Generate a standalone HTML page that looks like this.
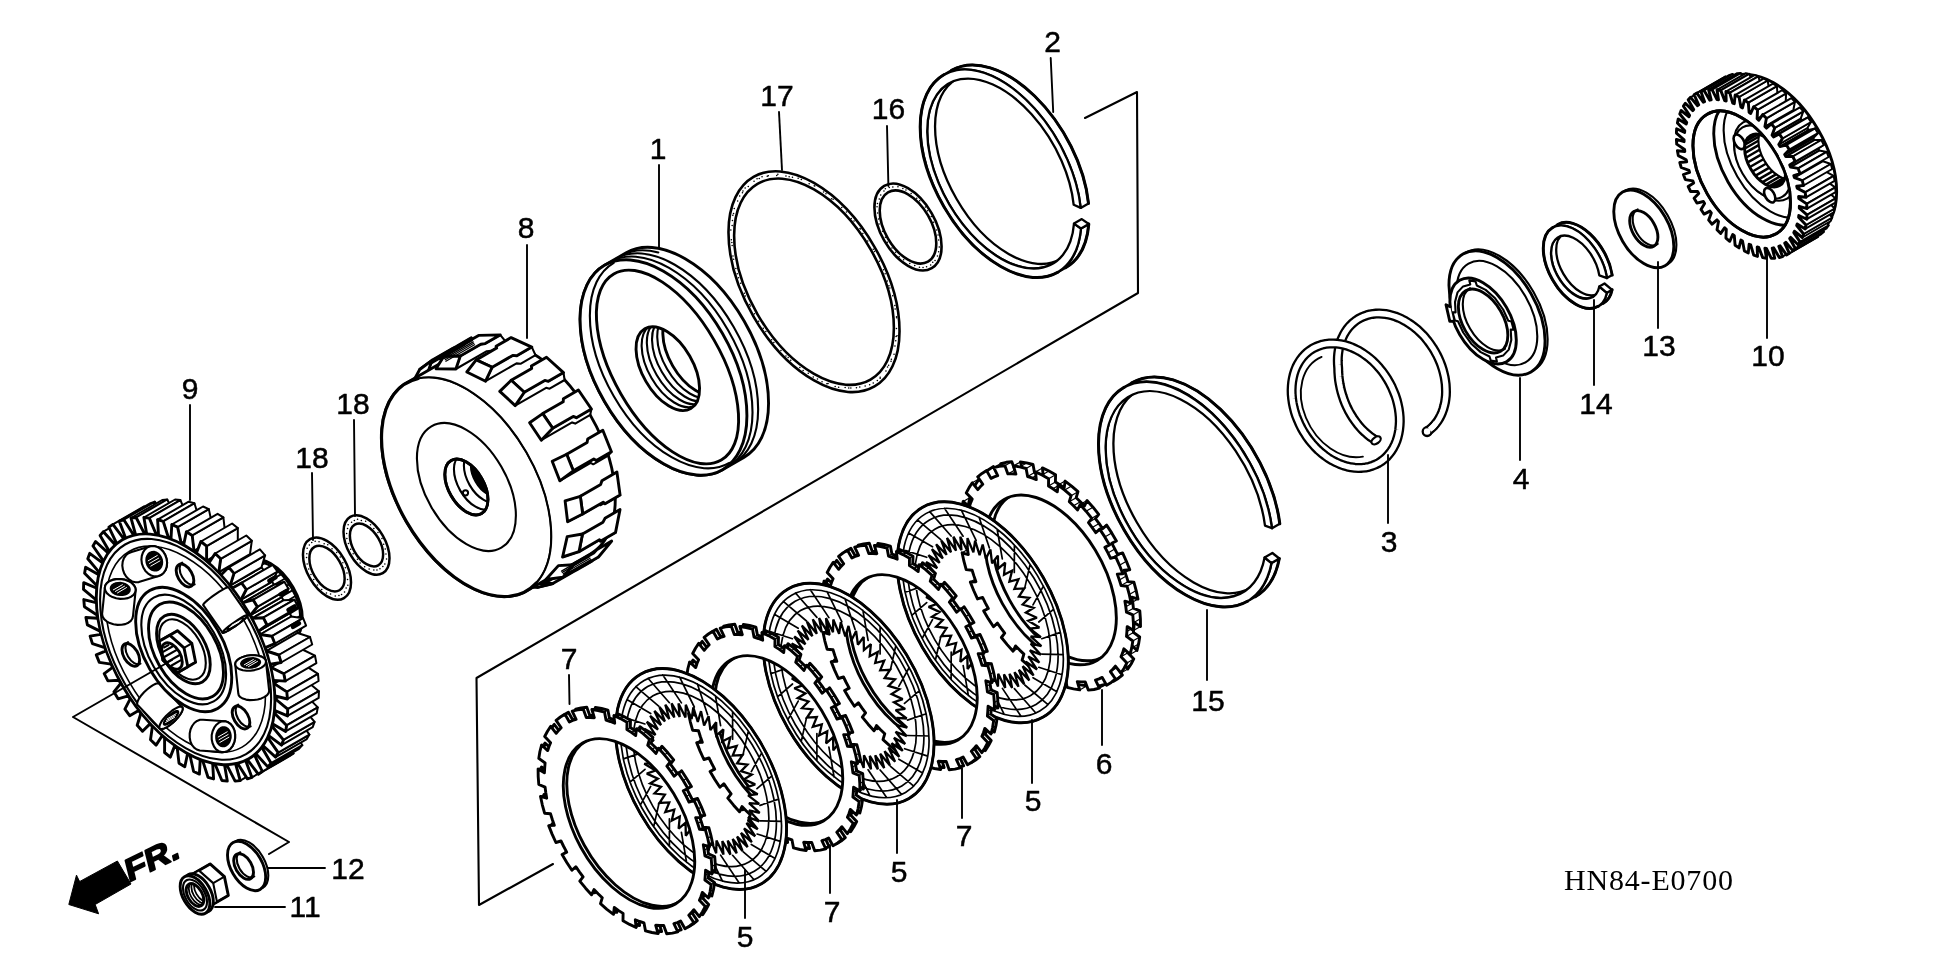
<!DOCTYPE html>
<html><head><meta charset="utf-8"><title>HN84-E0700</title>
<style>html,body{margin:0;padding:0;background:#fff;}svg{display:block;filter:grayscale(1);}</style>
</head><body>
<svg width="1934" height="964" viewBox="0 0 1934 964" stroke-linecap="round" stroke-linejoin="round">
<ellipse cx="327" cy="568.6" rx="34" ry="19.6" transform="rotate(60 327 568.6)" fill="#fff" stroke="#000" stroke-width="2.5"/>
<ellipse cx="327" cy="568.6" rx="25" ry="14.4" transform="rotate(60 327 568.6)" fill="#fff" stroke="#000" stroke-width="2.5"/>
<path d="M341.5 594.4h0.1M344.5 592.1h0.1M346.1 587.9h0.1M347.8 585.3h0.1M347.5 579.6h0.1M346.9 573.1h0.1M345.3 567.8h0.1M342.8 562.7h0.1M340.2 557h0.1M336.6 552.4h0.1M332 548.7h0.1M327.7 544.8h0.1M324.1 543.7h0.1M319 541.8h0.1M315.1 541.3h0.1M311.7 542.6h0.1M309.3 544.9h0.1M307.1 548.2h0.1M306.8 553.8h0.1M306.5 557.4h0.1M307.1 564.1h0.1M308.7 569h0.1M310.9 574.4h0.1M313.7 579.5h0.1M317.4 585.1h0.1M321.7 589.4h0.1M326.4 593h0.1M330.5 593.9h0.1M335.2 596.1h0.1M338.9 595.4h0.1" fill="none" stroke="#000" stroke-width="1.5" />
<ellipse cx="366.5" cy="545" rx="32.5" ry="18.8" transform="rotate(60 366.5 545)" fill="#fff" stroke="#000" stroke-width="2.5"/>
<ellipse cx="366.5" cy="545" rx="23.5" ry="13.6" transform="rotate(60 366.5 545)" fill="#fff" stroke="#000" stroke-width="2.5"/>
<path d="M379.9 568.8h0.1M382.8 566.6h0.1M384.8 564h0.1M386.5 559h0.1M385.9 554h0.1M385.2 549.1h0.1M383.6 544.3h0.1M381.9 538.6h0.1M377.9 532.4h0.1M373.8 528.4h0.1M370.5 524.8h0.1M365.6 521.2h0.1M361.3 520.5h0.1M357.5 519.2h0.1M354.3 520.5h0.1M351.5 522.3h0.1M348.1 524.7h0.1M347.5 528.6h0.1M346.6 533.6h0.1M346.8 538.6h0.1M348.4 543.6h0.1M350.6 549.2h0.1M353.1 553.7h0.1M357.4 559.3h0.1M360.1 563.1h0.1M364.6 566.7h0.1M369.1 569h0.1M373.8 570h0.1M376.9 570h0.1" fill="none" stroke="#000" stroke-width="1.5" />
<ellipse cx="814" cy="281.7" rx="121" ry="69.8" transform="rotate(60 814 281.7)" fill="#fff" stroke="#000" stroke-width="2.6"/>
<ellipse cx="814" cy="281.7" rx="113" ry="65.2" transform="rotate(60 814 281.7)" fill="#fff" stroke="#000" stroke-width="2.6"/>
<path d="M873.2 383.1h0.1M877.3 380.6h0.1M880.1 378.2h0.1M880.1 377.2h0.1M885.9 370.9h0.1M887.5 366.9h0.1M888.6 365.2h0.1M891 361.2h0.1M891.3 359.3h0.1M894 354.2h0.1M894.9 345.9h0.1M895.7 340.7h0.1M896 336.6h0.1M897 335.8h0.1M896.4 328.5h0.1M896.5 317.8h0.1M896.5 316.8h0.1M895.1 309h0.1M894.8 305.4h0.1M892.6 295.7h0.1M889.8 287.9h0.1M888.9 285.7h0.1M887.3 281.1h0.1M885.1 273.7h0.1M883.5 269.7h0.1M879.3 261.2h0.1M874.5 251.6h0.1M873.2 249.3h0.1M867.7 240.9h0.1M862.8 233.5h0.1M860.4 229h0.1M859.9 228.4h0.1M854 221.1h0.1M851.2 218.6h0.1M846.4 211.9h0.1M841.7 207.4h0.1M833.1 199.2h0.1M831.5 198.7h0.1M825.9 193.7h0.1M823.5 192h0.1M814.7 186.1h0.1M814.2 185.8h0.1M809.1 183.8h0.1M801.3 179.4h0.1M798.1 178.2h0.1M792.4 177.3h0.1M789.1 176.7h0.1M785.9 176.1h0.1M777.8 174.2h0.1M776.7 175.6h0.1M768.2 175.7h0.1M767.2 176.3h0.1M762 176.8h0.1M759.2 178.6h0.1M757 178.8h0.1M754 181.3h0.1M748.2 186.6h0.1M745.1 188h0.1M742.9 191.1h0.1M742.4 192.7h0.1M739.6 196h0.1M737.6 201.1h0.1M734.2 208.6h0.1M733.5 213.6h0.1M732.8 215.3h0.1M732.4 220.6h0.1M732.1 225.4h0.1M730.8 230h0.1M731.3 239.8h0.1M731.8 242.5h0.1M732.1 245.5h0.1M732.9 256.1h0.1M733.6 259.2h0.1M735.8 268.4h0.1M737.2 273.8h0.1M738.5 277.7h0.1M740.6 283.3h0.1M744.3 293.2h0.1M745.2 295.9h0.1M749.6 304.6h0.1M750.4 306h0.1M754.4 313.8h0.1M758.6 321.2h0.1M763.2 328.2h0.1M765.8 331.6h0.1M771.6 339.7h0.1M773.8 342.5h0.1M780.9 350.4h0.1M785.9 355.9h0.1M788.1 357.5h0.1M790.7 360.3h0.1M799.8 367.5h0.1M803.1 370.4h0.1M808.2 373.2h0.1M813.2 376.9h0.1M817.4 379h0.1M822 381.7h0.1M826.8 383.8h0.1M828 383.5h0.1M835.1 386.5h0.1M838.6 387.3h0.1M845.1 387.5h0.1M848.7 388.1h0.1M850.8 388h0.1M856.4 387.7h0.1M859.7 387h0.1M865.1 386.1h0.1M869.6 384.7h0.1" fill="none" stroke="#000" stroke-width="1.5" />
<ellipse cx="908" cy="227" rx="47.5" ry="27.4" transform="rotate(60 908 227)" fill="#fff" stroke="#000" stroke-width="2.6"/>
<ellipse cx="908" cy="227" rx="40" ry="23.1" transform="rotate(60 908 227)" fill="#fff" stroke="#000" stroke-width="2.6"/>
<path d="M930.6 265.1h0.1M932.7 262.3h0.1M935 260.5h0.1M937.4 256h0.1M938.6 251.7h0.1M939.2 247h0.1M938.6 240.1h0.1M938 235h0.1M936.7 230h0.1M933.6 222.3h0.1M931.2 216.4h0.1M927.5 210.8h0.1M925.4 207h0.1M919.7 200.8h0.1M916.7 198.2h0.1M911.1 193.6h0.1M905.9 190h0.1M902.8 188.6h0.1M897.9 186.8h0.1M892.8 187.1h0.1M889.2 187.4h0.1M885.3 188.7h0.1M883.9 191h0.1M880.7 194.9h0.1M879.2 198.9h0.1M877.4 203.6h0.1M877 206.8h0.1M877.6 212.9h0.1M878.5 219h0.1M879 224.1h0.1M882.5 231.3h0.1M885.4 237.3h0.1M887.3 242.2h0.1M891.9 247.9h0.1M895.5 252.2h0.1M899.1 256.7h0.1M903.6 259.7h0.1M909.7 263.5h0.1M914.7 265.4h0.1M919.4 267.3h0.1M923 267.5h0.1M926.5 266.8h0.1" fill="none" stroke="#000" stroke-width="1.5" />
<path d="M197.7 590.3A45 26 60 0 0 197.8 642.3A45 26 60 0 0 242.7 668.3L293 639.3A45 26 60 0 0 293 587.3A45 26 60 0 0 248 561.3Z" fill="#fff" stroke="#000" stroke-width="2.9" />
<path d="M237.6 670.1L286.6 638.4M241.5 668.9L291.8 639.9M245 666.7L293.5 635.2M247.8 663.6L298 634.6M249.9 659.6L298.2 628.6M251.4 654.9L301.6 625.9M252 649.6L300.1 619.2M251.9 643.7L302.1 614.7M251 637.5L299.1 608M249.3 631.1L299.5 602.1M246.9 624.7L295.4 596M243.9 618.4L294.1 589.4M240.3 612.3L289.1 584.4M236.1 606.7L286.4 577.7M231.6 601.6L281.1 574.4M226.8 597.2L277.1 568.2M221.9 593.6L272 567M216.9 590.8L267.1 561.8M212 589.1L262.8 562.7M207.3 588.3L257.5 559.3M202.9 588.5L254.3 562.2M198.9 589.7L249.2 560.7M195.5 591.9L247.4 565.4M192.7 595L242.9 566" fill="none" stroke="#000" stroke-width="1.8" />
<path d="M287.5 638.2A42 24.2 60 0 0 291.5 588.2A42 24.2 60 0 0 246.1 566.6" fill="none" stroke="#000" stroke-width="2.1" />
<path d="M235.7 764.3L240.2 780.6L271.3 762.6L266.9 746.3Z" fill="#fff" stroke="#000" stroke-width="2" />
<path d="M103.4 531.7L114.9 544.5L146.1 526.5L134.6 513.7Z" fill="#fff" stroke="#000" stroke-width="2" />
<path d="M245.8 761L251.9 777.4L283.1 759.4L277 743Z" fill="#fff" stroke="#000" stroke-width="2" />
<path d="M112.9 524.4L123.5 538.5L154.7 520.5L144.1 506.4Z" fill="#fff" stroke="#000" stroke-width="2" />
<path d="M123.5 538.5L125.4 537.6L156.6 519.6L154.7 520.5Z" fill="#fff" stroke="#000" stroke-width="2" />
<path d="M262.3 771.5L258.3 774.2L289.5 756.2L293.5 753.5Z" fill="#fff" stroke="#000" stroke-width="2" />
<path d="M254.7 755.5L262.3 771.5L293.5 753.5L285.8 737.5Z" fill="#fff" stroke="#000" stroke-width="2" />
<path d="M256.3 754.1L254.7 755.5L285.8 737.5L287.4 736.1Z" fill="#fff" stroke="#000" stroke-width="2" />
<path d="M119.3 521.2L123.8 519.7L155 501.7L150.5 503.2Z" fill="#fff" stroke="#000" stroke-width="2" />
<path d="M123.8 519.7L133.4 534.8L164.6 516.8L155 501.7Z" fill="#fff" stroke="#000" stroke-width="2" />
<path d="M133.4 534.8L135.5 534.3L166.7 516.3L164.6 516.8Z" fill="#fff" stroke="#000" stroke-width="2" />
<path d="M271.1 763.2L267.8 766.9L299 748.9L302.3 745.2Z" fill="#fff" stroke="#000" stroke-width="2" />
<path d="M262.1 747.7L271.1 763.2L302.3 745.2L293.3 729.7Z" fill="#fff" stroke="#000" stroke-width="2" />
<path d="M263.4 746L262.1 747.7L293.3 729.7L294.6 728Z" fill="#fff" stroke="#000" stroke-width="2" />
<path d="M131 518L136.1 517.5L167.2 499.5L162.2 500Z" fill="#fff" stroke="#000" stroke-width="2" />
<path d="M136.1 517.5L144.3 533.4L175.5 515.4L167.2 499.5Z" fill="#fff" stroke="#000" stroke-width="2" />
<path d="M144.3 533.4L146.6 533.4L177.8 515.4L175.5 515.4Z" fill="#fff" stroke="#000" stroke-width="2" />
<path d="M278.2 752.6L275.6 757.1L306.8 739.1L309.4 734.6Z" fill="#fff" stroke="#000" stroke-width="2" />
<path d="M268 738L278.2 752.6L309.4 734.6L299.2 720Z" fill="#fff" stroke="#000" stroke-width="2" />
<path d="M269 735.9L268 738L299.2 720L300.2 717.9Z" fill="#fff" stroke="#000" stroke-width="2" />
<path d="M143.9 517.5L149.3 518.1L180.4 500.1L175.1 499.5Z" fill="#fff" stroke="#000" stroke-width="2" />
<path d="M156.1 534.3L158.5 534.8L189.7 516.8L187.3 516.3Z" fill="#fff" stroke="#000" stroke-width="2" />
<path d="M149.3 518.1L156.1 534.3L187.3 516.3L180.4 500.1Z" fill="#fff" stroke="#000" stroke-width="2" />
<path d="M283.4 739.9L281.5 745.2L312.7 727.2L314.6 721.9Z" fill="#fff" stroke="#000" stroke-width="2" />
<path d="M272.9 724L272.2 726.5L303.4 708.5L304.1 706Z" fill="#fff" stroke="#000" stroke-width="2" />
<path d="M272.2 726.5L283.4 739.9L314.6 721.9L303.4 708.5Z" fill="#fff" stroke="#000" stroke-width="2" />
<path d="M168.4 537.6L171 538.6L202.1 520.6L199.6 519.6Z" fill="#fff" stroke="#000" stroke-width="2" />
<path d="M157.6 519.7L163.2 521.3L194.4 503.3L188.7 501.7Z" fill="#fff" stroke="#000" stroke-width="2" />
<path d="M163.2 521.3L168.4 537.6L199.6 519.6L194.4 503.3Z" fill="#fff" stroke="#000" stroke-width="2" />
<path d="M275 710.6L274.7 713.4L305.9 695.4L306.2 692.6Z" fill="#fff" stroke="#000" stroke-width="2" />
<path d="M274.7 713.4L286.6 725.4L317.8 707.4L305.9 695.4Z" fill="#fff" stroke="#000" stroke-width="2" />
<path d="M286.6 725.4L285.6 731.4L316.7 713.4L317.8 707.4Z" fill="#fff" stroke="#000" stroke-width="2" />
<path d="M181.2 543.2L183.7 544.6L214.9 526.6L212.3 525.2Z" fill="#fff" stroke="#000" stroke-width="2" />
<path d="M177.6 527.1L181.2 543.2L212.3 525.2L208.8 509.1Z" fill="#fff" stroke="#000" stroke-width="2" />
<path d="M171.8 524.5L177.6 527.1L208.8 509.1L203 506.5Z" fill="#fff" stroke="#000" stroke-width="2" />
<path d="M275.3 696L275.4 699L306.5 681L306.4 678Z" fill="#fff" stroke="#000" stroke-width="2" />
<path d="M275.4 699L287.7 709.2L318.9 691.2L306.5 681Z" fill="#fff" stroke="#000" stroke-width="2" />
<path d="M287.7 709.2L287.5 715.9L318.7 697.9L318.9 691.2Z" fill="#fff" stroke="#000" stroke-width="2" />
<path d="M194 550.9L196.5 552.7L227.7 534.7L225.1 532.9Z" fill="#fff" stroke="#000" stroke-width="2" />
<path d="M192.2 535.4L194 550.9L225.1 532.9L223.4 517.4Z" fill="#fff" stroke="#000" stroke-width="2" />
<path d="M273.7 680.4L274.2 683.6L305.4 665.6L304.9 662.4Z" fill="#fff" stroke="#000" stroke-width="2" />
<path d="M186.4 531.8L192.2 535.4L223.4 517.4L217.6 513.8Z" fill="#fff" stroke="#000" stroke-width="2" />
<path d="M274.2 683.6L286.8 691.9L318 673.9L305.4 665.6Z" fill="#fff" stroke="#000" stroke-width="2" />
<path d="M206.6 560.7L209.1 562.8L240.3 544.8L237.8 542.7Z" fill="#fff" stroke="#000" stroke-width="2" />
<path d="M286.8 691.9L287.4 699L318.6 681L318 673.9Z" fill="#fff" stroke="#000" stroke-width="2" />
<path d="M270.4 664.2L271.2 667.5L302.4 649.5L301.6 646.2Z" fill="#fff" stroke="#000" stroke-width="2" />
<path d="M206.6 546.1L206.6 560.7L237.8 542.7L237.8 528.1Z" fill="#fff" stroke="#000" stroke-width="2" />
<path d="M218.8 572.2L221.2 574.7L252.4 556.7L250 554.2Z" fill="#fff" stroke="#000" stroke-width="2" />
<path d="M200.9 541.5L206.6 546.1L237.8 528.1L232.1 523.5Z" fill="#fff" stroke="#000" stroke-width="2" />
<path d="M271.2 667.5L283.8 673.7L315 655.7L302.4 649.5Z" fill="#fff" stroke="#000" stroke-width="2" />
<path d="M265.3 647.7L266.5 651L297.6 633L296.5 629.7Z" fill="#fff" stroke="#000" stroke-width="2" />
<path d="M230.3 585.3L232.5 588.1L263.7 570.1L261.5 567.3Z" fill="#fff" stroke="#000" stroke-width="2" />
<path d="M220.7 558.8L218.8 572.2L250 554.2L251.8 540.8Z" fill="#fff" stroke="#000" stroke-width="2" />
<path d="M283.8 673.7L285.3 681.1L316.4 663.1L315 655.7Z" fill="#fff" stroke="#000" stroke-width="2" />
<path d="M258.6 631.2L260.1 634.5L291.3 616.5L289.8 613.2Z" fill="#fff" stroke="#000" stroke-width="2" />
<path d="M241 599.7L243 602.7L274.1 584.7L272.1 581.7Z" fill="#fff" stroke="#000" stroke-width="2" />
<path d="M250.5 615.1L252.2 618.3L283.4 600.3L281.6 597.1Z" fill="#fff" stroke="#000" stroke-width="2" />
<path d="M266.5 651L278.8 655L310 637L297.6 633Z" fill="#fff" stroke="#000" stroke-width="2" />
<path d="M215.1 553.5L220.7 558.8L251.8 540.8L246.3 535.5Z" fill="#fff" stroke="#000" stroke-width="2" />
<path d="M234 573.4L230.3 585.3L261.5 567.3L265.1 555.4Z" fill="#fff" stroke="#000" stroke-width="2" />
<path d="M260.1 634.5L271.9 636.2L303.1 618.2L291.3 616.5Z" fill="#fff" stroke="#000" stroke-width="2" />
<path d="M278.8 655L281.1 662.5L312.2 644.5L310 637Z" fill="#fff" stroke="#000" stroke-width="2" />
<path d="M267 625L258.6 631.2L289.8 613.2L298.1 607Z" fill="#fff" stroke="#000" stroke-width="2" />
<path d="M246.3 589.5L241 599.7L272.1 581.7L277.4 571.5Z" fill="#fff" stroke="#000" stroke-width="2" />
<path d="M243 602.7L253.1 599.8L284.3 581.8L274.1 584.7Z" fill="#fff" stroke="#000" stroke-width="2" />
<path d="M252.2 618.3L263.3 617.7L294.5 599.7L283.4 600.3Z" fill="#fff" stroke="#000" stroke-width="2" />
<path d="M257.3 606.8L250.5 615.1L281.6 597.1L288.5 588.8Z" fill="#fff" stroke="#000" stroke-width="2" />
<path d="M228.7 567.3L234 573.4L265.1 555.4L259.9 549.3Z" fill="#fff" stroke="#000" stroke-width="2" />
<path d="M271.9 636.2L274.9 643.7L306.1 625.7L303.1 618.2Z" fill="#fff" stroke="#000" stroke-width="2" />
<path d="M241.5 582.9L246.3 589.5L277.4 571.5L272.7 564.9Z" fill="#fff" stroke="#000" stroke-width="2" />
<path d="M263.3 617.7L267 625L298.1 607L294.5 599.7Z" fill="#fff" stroke="#000" stroke-width="2" />
<path d="M253.1 599.8L257.3 606.8L288.5 588.8L284.3 581.8Z" fill="#fff" stroke="#000" stroke-width="2" />
<path d="M247.7 760.1L258.3 774.2L262.3 771.5L254.7 755.5L256.3 754.1L267.8 766.9L271.1 763.2L262.1 747.7L263.4 746L275.6 757.1L278.2 752.6L268 738L269 735.9L281.5 745.2L283.4 739.9L272.2 726.5L272.9 724L285.6 731.4L286.6 725.4L274.7 713.4L275 710.6L287.5 715.9L287.7 709.2L275.4 699L275.3 696L287.4 699L286.8 691.9L274.2 683.6L273.7 680.4L285.3 681.1L283.8 673.7L271.2 667.5L270.4 664.2L281.1 662.5L278.8 655L266.5 651L265.3 647.7L274.9 643.7L271.9 636.2L260.1 634.5L258.6 631.2L267 625L263.3 617.7L252.2 618.3L250.5 615.1L257.3 606.8L253.1 599.8L243 602.7L241 599.7L246.3 589.5L241.5 582.9L232.5 588.1L230.3 585.3L234 573.4L228.7 567.3L221.2 574.7L218.8 572.2L220.7 558.8L215.1 553.5L209.1 562.8L206.6 560.7L206.6 546.1L200.9 541.5L196.5 552.7L194 550.9L192.2 535.4L186.4 531.8L183.7 544.6L181.2 543.2L177.6 527.1L171.8 524.5L171 538.6L168.4 537.6L163.2 521.3L157.6 519.7L158.5 534.8L156.1 534.3L149.3 518.1L143.9 517.5L146.6 533.4L144.3 533.4L136.1 517.5L131 518L135.5 534.3L133.4 534.8L123.8 519.7L119.3 521.2L125.4 537.6L123.5 538.5L112.9 524.4L108.9 527.1L116.5 543.1L114.9 544.5L103.4 531.7L100.1 535.4L109.1 550.9L107.8 552.6L95.6 541.5L93 546L103.2 560.6L102.2 562.7L89.7 553.4L87.8 558.7L99 572.1L98.3 574.6L85.6 567.2L84.6 573.2L96.5 585.2L96.2 588L83.7 582.7L83.5 589.4L95.8 599.6L95.9 602.6L83.8 599.6L84.4 606.7L97 615L97.5 618.2L85.9 617.5L87.4 624.9L100 631.1L100.8 634.4L90.1 636.1L92.4 643.6L104.7 647.6L105.9 650.9L96.3 654.9L99.3 662.4L111.1 664.1L112.6 667.4L104.2 673.6L107.9 680.9L119 680.3L120.7 683.5L113.9 691.8L118.1 698.8L128.2 695.9L130.2 698.9L124.9 709.1L129.7 715.7L138.7 710.5L140.9 713.3L137.2 725.2L142.5 731.3L150 723.9L152.4 726.4L150.5 739.8L156.1 745.1L162.1 735.8L164.6 737.9L164.6 752.5L170.3 757.1L174.7 745.9L177.2 747.7L179 763.2L184.8 766.8L187.5 754L190 755.4L193.6 771.5L199.4 774.1L200.2 760L202.8 761L208 777.3L213.6 778.9L212.7 763.8L215.1 764.3L221.9 780.5L227.3 781.1L224.6 765.2L226.9 765.2L235.1 781.1L240.2 780.6L235.7 764.3L237.8 763.8L247.4 778.9L251.9 777.4L245.8 761Z" fill="#fff" stroke="#000" stroke-width="2.9" />
<path d="M293 626.8L299 623.3" stroke="#000" stroke-width="4.5" fill="none"/>
<path d="M288.5 609.9L294.6 606.4" stroke="#000" stroke-width="4.5" fill="none"/>
<path d="M280.6 594.4L286.7 590.9" stroke="#000" stroke-width="4.5" fill="none"/>
<path d="M269.4 580.8L275.5 577.3" stroke="#000" stroke-width="4.5" fill="none"/>
<ellipse cx="185.6" cy="649.3" rx="126.4" ry="72.9" transform="rotate(60 185.6 649.3)" fill="#fff" stroke="#000" stroke-width="2.9"/>
<ellipse cx="185.6" cy="649.3" rx="121" ry="69.8" transform="rotate(60 185.6 649.3)" fill="none" stroke="#000" stroke-width="2.1"/>
<ellipse cx="185.6" cy="649.3" rx="113" ry="65.2" transform="rotate(60 185.6 649.3)" fill="none" stroke="#000" stroke-width="1.6"/>
<ellipse cx="241" cy="717.5" rx="12.5" ry="7.2" transform="rotate(60 241 717.5)" fill="#fff" stroke="#000" stroke-width="2.9"/>
<path d="M238.2 704.6A12.5 7.2 60 0 0 238.2 719.1A12.5 7.2 60 0 0 250.7 726.3" fill="none" stroke="#000" stroke-width="2.1" />
<ellipse cx="185" cy="575.5" rx="12.5" ry="7.2" transform="rotate(60 185 575.5)" fill="#fff" stroke="#000" stroke-width="2.9"/>
<path d="M182.2 562.7A12.5 7.2 60 0 0 182.2 577.1A12.5 7.2 60 0 0 194.7 584.3" fill="none" stroke="#000" stroke-width="2.1" />
<ellipse cx="130.8" cy="654.9" rx="12.5" ry="7.2" transform="rotate(60 130.8 654.9)" fill="#fff" stroke="#000" stroke-width="2.9"/>
<path d="M128 642.1A12.5 7.2 60 0 0 128 656.5A12.5 7.2 60 0 0 140.5 663.7" fill="none" stroke="#000" stroke-width="2.1" />
<path d="M235.2 664.2L235.7 662.1L237.3 660.1L239.7 658.4L242.9 656.9L246.7 655.8L250.7 655.2L254.7 655.2L258.4 655.7L261.6 656.6L264 658.1L265.5 659.8L266 661.8L269.2 691.1L268.6 693.1L267.1 695.1L264.6 696.9L261.4 698.4L257.7 699.5L253.7 700L249.7 700.1L246 699.6L242.8 698.6L240.4 697.2L238.8 695.5L238.3 693.5Z" fill="#fff" stroke="#000" stroke-width="2.1" />
<path d="M261.5 667.6L263.9 665.8L265.5 663.8L266 661.8L265.5 659.8L264 658.1L261.6 656.7L258.4 655.7L254.7 655.2L250.7 655.2L246.7 655.8L242.9 656.9L239.7 658.4L237.3 660.1L235.7 662.1L235.2 664.2L235.7 666.1L237.2 667.9L239.7 669.3L242.8 670.3L246.6 670.8L250.5 670.7L254.5 670.1L258.3 669.1Z" fill="#fff" stroke="#000" stroke-width="2.1" />
<path d="M257.3 665.8L258.9 664.7L259.8 663.5L260.2 662.2L259.9 661L258.9 659.9L257.4 659.1L255.4 658.4L253.1 658.1L250.6 658.2L248.2 658.5L245.9 659.2L243.9 660.1L242.3 661.2L241.4 662.5L241 663.7L241.4 664.9L242.3 666L243.8 666.9L245.8 667.5L248.1 667.8L250.6 667.8L253 667.4L255.4 666.8Z" fill="#000" stroke="#000" stroke-width="2" />
<path d="M244.3 664.8L253.3 659.6M246.4 665.7L255.4 660.5M248.5 666.6L257.5 661.4" fill="none" stroke="#fff" stroke-width="1" />
<path d="M203.1 604.9L203.6 604L204.9 602.5L207 600.6L209.6 598.5L212.7 596.1L216 593.8L219.3 591.6L222.4 589.8L225 588.4L227 587.5L228.2 587.2L228.6 587.5L247.9 615.2L247.5 616.1L246.1 617.5L244.1 619.4L241.4 621.6L238.3 623.9L235 626.3L231.7 628.4L228.7 630.3L226.1 631.7L224.1 632.6L222.8 632.9L222.4 632.5Z" fill="#fff" stroke="#000" stroke-width="2.1" />
<path d="M241.7 617.5L244.3 616L246.3 615.2L247.5 614.9L247.9 615.2L247.5 616.1L246.1 617.5L244.1 619.4L241.4 621.6L238.3 623.9L235 626.3L231.7 628.4L228.7 630.3L226.1 631.7L224.1 632.6L222.8 632.9L222.4 632.5L222.9 631.6L224.2 630.2L226.3 628.3L229 626.1L232.1 623.8L235.4 621.5L238.6 619.3Z" fill="#fff" stroke="#000" stroke-width="2.1" />
<path d="M239.2 619.9L240.9 619L242.1 618.5L242.8 618.3L243.1 618.5L242.8 619.1L242 619.9L240.7 621.1L239.1 622.5L237.1 623.9L235.1 625.3L233 626.7L231.2 627.8L229.5 628.7L228.3 629.3L227.5 629.4L227.3 629.3L227.6 628.7L228.4 627.8L229.7 626.6L231.3 625.3L233.2 623.8L235.3 622.4L237.3 621Z" fill="#000" stroke="#000" stroke-width="2" />
<path d="M229.6 627.5L238.6 622.3M230.9 626.3L239.9 621.1M232.1 625.1L241.1 619.9" fill="none" stroke="#fff" stroke-width="1" />
<path d="M122.3 565.6L122.7 561.7L123.9 558.2L125.9 555.3L128.5 553.2L131.6 552L150.6 546.2L153.9 546L157.3 546.9L160.4 548.8L163.1 551.5L165.2 554.9L166.5 558.7L167.1 562.7L166.7 566.6L165.5 570.1L163.5 573L160.9 575.1L157.8 576.3L138.8 582.1L135.5 582.3L132.1 581.4L129 579.5L126.3 576.8L124.2 573.4L122.9 569.6Z" fill="#fff" stroke="#000" stroke-width="2.1" />
<path d="M147.6 547.3L150.6 546.2L153.9 546L157.3 546.9L160.4 548.8L163.1 551.5L165.2 554.9L166.5 558.7L167.1 562.7L166.7 566.6L165.5 570.1L163.5 573L160.9 575.1L157.8 576.3L154.5 576.4L151.2 575.5L148.1 573.6L145.4 570.9L143.3 567.5L141.9 563.7L141.4 559.7L141.8 555.9L143 552.3L145 549.4Z" fill="#fff" stroke="#000" stroke-width="2.1" />
<path d="M150.1 552.6L152 551.9L154 551.8L156.1 552.4L158 553.5L159.7 555.2L161 557.3L161.9 559.7L162.2 562.1L162 564.5L161.2 566.7L160 568.5L158.4 569.8L156.5 570.5L154.4 570.6L152.4 570.1L150.4 568.9L148.7 567.2L147.4 565.1L146.6 562.8L146.3 560.3L146.5 557.9L147.3 555.7L148.5 553.9Z" fill="#000" stroke="#000" stroke-width="2" />
<path d="M150.8 566.1L159.9 560.9M149.5 563.4L158.6 558.2M148.2 560.8L157.3 555.5" fill="none" stroke="#fff" stroke-width="1" />
<path d="M102.1 614L104.8 588L105.3 585.5L106.9 583.1L109.3 581.2L112.5 579.9L116.3 579.1L120.3 579L124.3 579.6L128 580.9L131.2 582.6L133.6 584.9L135.2 587.4L135.7 590L133 616L132.4 618.5L130.9 620.8L128.4 622.7L125.2 624.1L121.5 624.8L117.5 624.9L113.5 624.3L109.8 623.1L106.6 621.3L104.1 619.1L102.6 616.6Z" fill="#fff" stroke="#000" stroke-width="2.1" />
<path d="M109.3 581.2L112.6 579.9L116.3 579.1L120.3 579L124.3 579.6L128 580.9L131.2 582.6L133.6 584.9L135.2 587.4L135.7 590L135.1 592.5L133.6 594.8L131.1 596.7L127.9 598.1L124.2 598.8L120.2 598.9L116.2 598.3L112.5 597.1L109.3 595.3L106.8 593.1L105.3 590.6L104.8 588L105.3 585.4L106.9 583.1Z" fill="#fff" stroke="#000" stroke-width="2.1" />
<path d="M113.5 584.2L115.5 583.3L117.8 582.9L120.3 582.8L122.7 583.2L125 583.9L127 585.1L128.5 586.4L129.5 588L129.8 589.6L129.5 591.2L128.5 592.6L127 593.8L125 594.6L122.7 595.1L120.2 595.1L117.7 594.8L115.4 594L113.4 592.9L111.9 591.5L111 590L110.7 588.4L111 586.8L112 585.4Z" fill="#000" stroke="#000" stroke-width="2" />
<path d="M117.5 592.9L126.5 587.6M115.4 591.4L124.5 586.2M113.3 589.9L122.4 584.7" fill="none" stroke="#fff" stroke-width="1" />
<path d="M137.2 702.9L137.9 700.7L139.3 698.1L141.4 695.2L144 692.3L147 689.5L150 687.1L153 685.1L155.7 683.8L157.9 683.2L159.5 683.4L160.4 684.3L182.6 707.7L182.7 709.3L182 711.5L180.5 714.1L178.4 717L175.8 719.9L172.9 722.7L169.8 725.1L166.8 727.1L164.1 728.4L161.9 729L160.3 728.9L159.4 727.9L138.1 705.4L137.2 704.5Z" fill="#fff" stroke="#000" stroke-width="2.1" />
<path d="M166.8 727.1L169.8 725.1L172.9 722.7L175.8 719.9L178.4 717L180.5 714.1L182 711.5L182.7 709.3L182.6 707.7L181.7 706.8L180.1 706.6L177.9 707.2L175.2 708.6L172.2 710.5L169.2 713L166.2 715.7L163.6 718.7L161.5 721.5L160.1 724.2L159.4 726.3L159.4 727.9L160.3 728.9L161.9 729L164.1 728.4Z" fill="#fff" stroke="#000" stroke-width="2.1" />
<path d="M168.4 723.6L170.3 722.4L172.2 720.8L174 719.1L175.6 717.3L176.9 715.5L177.8 713.9L178.3 712.6L178.2 711.6L177.7 711L176.7 710.9L175.3 711.3L173.6 712.1L171.8 713.3L169.9 714.8L168.1 716.5L166.4 718.4L165.1 720.1L164.2 721.8L163.8 723.1L163.8 724.1L164.4 724.7L165.4 724.8L166.8 724.4Z" fill="#000" stroke="#000" stroke-width="2" />
<path d="M167.2 718.9L176.2 713.7M166.4 720.7L175.4 715.5M165.6 722.5L174.6 717.3" fill="none" stroke="#fff" stroke-width="1" />
<path d="M189.7 737.5L189.7 733.5L190.5 729.5L192.1 726L194.3 723L197 720.9L200 719.8L203.1 719.7L225.1 721.3L228.1 722.3L230.7 724.2L232.9 727L234.4 730.4L235.1 734.3L235.1 738.3L234.2 742.2L232.7 745.8L230.5 748.7L227.8 750.9L224.8 752L221.7 752.1L199.7 750.5L196.7 749.5L194.1 747.6L191.9 744.8L190.4 741.4Z" fill="#fff" stroke="#000" stroke-width="2.1" />
<path d="M227.8 750.9L230.5 748.7L232.7 745.8L234.3 742.2L235.1 738.3L235.1 734.3L234.4 730.4L232.9 727L230.7 724.2L228.1 722.3L225.1 721.3L222 721.4L219 722.6L216.4 724.7L214.2 727.7L212.6 731.2L211.7 735.1L211.7 739.2L212.5 743L214 746.5L216.1 749.3L218.8 751.2L221.7 752.1L224.8 752Z" fill="#fff" stroke="#000" stroke-width="2.1" />
<path d="M226.1 745.5L227.8 744.2L229.2 742.4L230.1 740.1L230.7 737.7L230.7 735.2L230.2 732.8L229.3 730.7L227.9 728.9L226.3 727.8L224.5 727.2L222.6 727.2L220.7 728L219 729.3L217.7 731.1L216.7 733.3L216.2 735.7L216.2 738.2L216.6 740.6L217.6 742.8L218.9 744.5L220.5 745.7L222.4 746.3L224.3 746.2Z" fill="#000" stroke="#000" stroke-width="2" />
<path d="M218.2 737L227.2 731.8M219 739.7L228.1 734.5M219.9 742.4L228.9 737.2" fill="none" stroke="#fff" stroke-width="1" />
<ellipse cx="183.7" cy="649.5" rx="68" ry="39.2" transform="rotate(60 183.7 649.5)" fill="#fff" stroke="#000" stroke-width="2.9"/>
<ellipse cx="183.7" cy="649.5" rx="60" ry="34.6" transform="rotate(60 183.7 649.5)" fill="none" stroke="#000" stroke-width="2.1"/>
<ellipse cx="186" cy="650.5" rx="53" ry="30.6" transform="rotate(60 186 650.5)" fill="none" stroke="#000" stroke-width="2.9"/>
<ellipse cx="183.4" cy="649" rx="38" ry="21.9" transform="rotate(60 183.4 649)" fill="#fff" stroke="#000" stroke-width="2.9"/>
<ellipse cx="182.5" cy="649.5" rx="33" ry="19" transform="rotate(60 182.5 649.5)" fill="none" stroke="#000" stroke-width="2.1"/>
<path d="M159.2 641.3L169.7 635.2L177.4 630.7L191.8 643.4L195.6 662.2L185.1 668.3L177.3 672.8L163 660.1Z" fill="#fff" stroke="#000" stroke-width="2.9" />
<path d="M187.8 666.7L184 647.9L169.7 635.2L159.2 641.3L163 660.1L177.3 672.8Z" fill="#fff" stroke="#000" stroke-width="2.9" />
<path d="M187.8 666.7L195.6 662.2" stroke="#000" stroke-width="2" fill="none"/>
<path d="M184 647.9L191.8 643.4" stroke="#000" stroke-width="2" fill="none"/>
<path d="M169.7 635.2L177.4 630.7" stroke="#000" stroke-width="2" fill="none"/>
<ellipse cx="172" cy="656" rx="14.5" ry="8.4" transform="rotate(60 172 656)" fill="#fff" stroke="#000" stroke-width="2.9"/>
<path d="M164.3 647.4L168.4 645.1M163.5 651.6L172.4 646.5M164.7 656.8L176.4 650.1M167.6 661.9L179.3 655.2M171.6 665.5L180.5 660.4" fill="none" stroke="#000" stroke-width="2.2" />
<path d="M428.3 371L432 360.3L452.5 348.5L456.3 346.5L471.3 337.8L478 342.7L463 351.4L459.2 353.1Z" fill="#fff" stroke="#000" stroke-width="2.1" />
<path d="M419.7 369.5L440.2 357.7L440.3 358.5L455.4 349.8L471.3 337.8L456.3 346.5L452.5 348.5L432 360.3Z" fill="#fff" stroke="#000" stroke-width="2.9" />
<path d="M413.4 381.2L428.3 371L432 360.3L419.7 369.5Z" fill="#fff" stroke="#000" stroke-width="2.9" />
<path d="M520.7 587L537.5 587.3L558 575.5L557.2 574.6L572.2 565.9L566 559.5L550.9 568.2L551.6 569.2Z" fill="#fff" stroke="#000" stroke-width="2.1" />
<path d="M552.8 583.5L573.2 571.7L577 569.7L592.1 561L572.2 565.9L557.2 574.6L558 575.5L537.5 587.3Z" fill="#fff" stroke="#000" stroke-width="2.9" />
<path d="M539.1 583.3L520.7 587L537.5 587.3L552.8 583.5Z" fill="#fff" stroke="#000" stroke-width="2.9" />
<path d="M406.4 383.1A120 69.2 60 0 0 406.4 521.6A120 69.2 60 0 0 526.4 590.9L590.5 553.9A120 69.2 60 0 0 590.4 415.4A120 69.2 60 0 0 470.5 346.1Z" fill="#fff" stroke="#000" stroke-width="2.9" />
<path d="M455.9 369L460.3 356L480.8 344.2L485.2 343.6L500.2 334.9L506.1 342.1L491.1 350.8L486.8 351.2Z" fill="#fff" stroke="#000" stroke-width="2.1" />
<path d="M443.7 356.4L464.2 344.6L463.6 344.1L478.6 335.4L500.2 334.9L485.2 343.6L480.8 344.2L460.3 356Z" fill="#fff" stroke="#000" stroke-width="2.9" />
<path d="M436 368.8L455.9 369L460.3 356L443.7 356.4Z" fill="#fff" stroke="#000" stroke-width="2.9" />
<path d="M485.6 381.2L492.2 367.2L512.7 355.4L516.8 355.8L531.8 347.1L535.5 355.1L520.5 363.8L516.5 363.4Z" fill="#fff" stroke="#000" stroke-width="2.1" />
<path d="M476.2 359.9L496.7 348.1L496.1 346.3L511.1 337.6L531.8 347.1L516.8 355.8L512.7 355.4L492.2 367.2Z" fill="#fff" stroke="#000" stroke-width="2.9" />
<path d="M466.8 372L485.6 381.2L492.2 367.2L476.2 359.9Z" fill="#fff" stroke="#000" stroke-width="2.9" />
<path d="M515.2 405.6L524.3 392.2L544.8 380.4L548.4 381.3L563.5 372.6L564.6 380L549.6 388.7L546.1 387.8Z" fill="#fff" stroke="#000" stroke-width="2.1" />
<path d="M511.2 380.3L531.7 368.5L531.4 365.9L546.5 357.2L563.5 372.6L548.4 381.3L544.8 380.4L524.3 392.2Z" fill="#fff" stroke="#000" stroke-width="2.9" />
<path d="M499.8 391.4L515.2 405.6L524.3 392.2L511.2 380.3Z" fill="#fff" stroke="#000" stroke-width="2.9" />
<path d="M541.3 440.2L552.7 428.3L573.2 416.4L576.4 417.7L591.4 409L590.2 414.9L575.2 423.6L572.1 422.4Z" fill="#fff" stroke="#000" stroke-width="2.1" />
<path d="M542.7 413.6L563.2 401.8L563.4 398.7L578.4 390L591.4 409L576.4 417.7L573.2 416.4L552.7 428.3Z" fill="#fff" stroke="#000" stroke-width="2.9" />
<path d="M529.6 422.8L541.3 440.2L552.7 428.3L542.7 413.6Z" fill="#fff" stroke="#000" stroke-width="2.9" />
<path d="M559.8 480.8L573.3 470.8L593.8 459L596.3 460.5L611.4 451.8L608.2 455.6L593.2 464.3L590.7 462.9Z" fill="#fff" stroke="#000" stroke-width="2.1" />
<path d="M566.7 454.3L587.1 442.4L587.7 439L602.8 430.3L611.4 451.8L596.3 460.5L593.8 459L573.3 470.8Z" fill="#fff" stroke="#000" stroke-width="2.9" />
<path d="M552.2 461.2L559.8 480.8L573.3 470.8L566.7 454.3Z" fill="#fff" stroke="#000" stroke-width="2.9" />
<path d="M567.6 521.7L582.7 514L603.2 502.2L605 503.8L620.1 495.1L615.3 496.6L600.3 505.3L598.5 503.9Z" fill="#fff" stroke="#000" stroke-width="2.1" />
<path d="M580.3 496.3L600.7 484.4L601.9 480.7L616.9 472L620.1 495.1L605 503.8L603.2 502.2L582.7 514Z" fill="#fff" stroke="#000" stroke-width="2.9" />
<path d="M565.1 500.9L567.6 521.7L582.7 514L580.3 496.3Z" fill="#fff" stroke="#000" stroke-width="2.9" />
<path d="M562.6 557L579 551.7L599.5 539.8L600.4 541.2L615.5 532.6L609.4 531.7L594.3 540.3L593.5 539.2Z" fill="#fff" stroke="#000" stroke-width="2.1" />
<path d="M582.5 534L603 522.2L605 518.3L620 509.6L615.5 532.6L600.4 541.2L599.5 539.8L579 551.7Z" fill="#fff" stroke="#000" stroke-width="2.9" />
<path d="M567.2 536.6L562.6 557L579 551.7L582.5 534Z" fill="#fff" stroke="#000" stroke-width="2.9" />
<path d="M545.9 579.5L563 577.1L583.5 565.2L583.4 565.7L598.5 557L591.7 553.2L576.7 561.9L576.8 561.6Z" fill="#fff" stroke="#000" stroke-width="2.1" />
<path d="M573.2 564.8L593.7 553L596.7 549.7L611.7 541.1L598.5 557L583.4 565.7L583.5 565.2L563 577.1Z" fill="#fff" stroke="#000" stroke-width="2.9" />
<path d="M558.4 565.6L545.9 579.5L563 577.1L573.2 564.8Z" fill="#fff" stroke="#000" stroke-width="2.9" />
<path d="M445.9 361.2L474.5 344.7" stroke="#000" stroke-width="1.3" fill="none"/>
<path d="M445.2 359.8L473.8 343.3" stroke="#000" stroke-width="1.3" fill="none"/>
<path d="M444.6 358.4L473.2 341.9" stroke="#000" stroke-width="1.3" fill="none"/>
<path d="M444 356.9L472.5 340.4" stroke="#000" stroke-width="1.3" fill="none"/>
<path d="M561.5 571.1L588.3 555.6" stroke="#000" stroke-width="1.3" fill="none"/>
<path d="M562.3 572.4L589.2 556.9" stroke="#000" stroke-width="1.3" fill="none"/>
<path d="M563.2 573.7L590.1 558.2" stroke="#000" stroke-width="1.3" fill="none"/>
<path d="M564.1 575.1L591 559.6" stroke="#000" stroke-width="1.3" fill="none"/>
<ellipse cx="466.4" cy="487" rx="120" ry="69.2" transform="rotate(60 466.4 487)" fill="#fff" stroke="#000" stroke-width="1.5"/>
<path d="M417.7 378.6A120 69.2 60 0 0 406.4 521.6A120 69.2 60 0 0 535.9 583.3" fill="none" stroke="#000" stroke-width="3.2" />
<path d="M535.9 583.3A120 69.2 60 0 0 417.7 378.6" fill="none" stroke="#000" stroke-width="2.1" />
<ellipse cx="466.4" cy="487" rx="70" ry="40.4" transform="rotate(60 466.4 487)" fill="none" stroke="#000" stroke-width="2.1"/>
<ellipse cx="466.4" cy="487" rx="30.5" ry="17.6" transform="rotate(60 466.4 487)" fill="#fff" stroke="#000" stroke-width="2.9"/>
<clipPath id="c8"><ellipse cx="466.4" cy="487" rx="30.5" ry="17.6" transform="rotate(60 466.4 487)"/></clipPath>
<g clip-path="url(#c8)">
<ellipse cx="475.5" cy="481.8" rx="30.5" ry="17.6" transform="rotate(60 475.5 481.8)" fill="none" stroke="#000" stroke-width="2.1"/>
<ellipse cx="483.7" cy="477" rx="28" ry="16.2" transform="rotate(60 483.7 477)" fill="none" stroke="#000" stroke-width="2.1"/>
<ellipse cx="487.2" cy="475" rx="23" ry="13.3" transform="rotate(60 487.2 475)" fill="#000" stroke="#000" stroke-width="2.1"/>
<path d="M484.1 459.8L483.3 456.2M480.8 459.6L479.3 455.9M478.1 460.7L476 457.3M476.2 463L473.6 460.2M475.3 466.4L472.4 464.4" fill="none" stroke="#fff" stroke-width="1.4" />
<circle cx="465.5" cy="492.8" r="2.6" fill="#fff" stroke="#000" stroke-width="2"/>
</g>
<ellipse cx="466.4" cy="487" rx="30.5" ry="17.6" transform="rotate(60 466.4 487)" fill="none" stroke="#000" stroke-width="2.9"/>
<path d="M604.5 265.3A118 68.1 60 0 0 604.5 401.5A118 68.1 60 0 0 722.5 469.7L744.2 457.2A118 68.1 60 0 0 744.1 321A118 68.1 60 0 0 626.2 252.8Z" fill="#fff" stroke="#000" stroke-width="2.9" />
<path d="M728.1 466.4A118 68.1 60 0 0 728.1 330.2A118 68.1 60 0 0 610.1 262.1" fill="none" stroke="#000" stroke-width="2.1" />
<path d="M733.8 463.2A118 68.1 60 0 0 733.7 327A118 68.1 60 0 0 615.8 258.8" fill="none" stroke="#000" stroke-width="2.1" />
<path d="M658.3 252.5A118 68.1 60 0 0 621 255.8" fill="none" stroke="#000" stroke-width="2.1" />
<ellipse cx="663.5" cy="367.5" rx="118" ry="68.1" transform="rotate(60 663.5 367.5)" fill="#fff" stroke="#000" stroke-width="2.9"/>
<path d="M613.8 262.8A115.5 66.6 60 0 0 613.8 396.2A115.5 66.6 60 0 0 729.3 462.9" fill="none" stroke="#000" stroke-width="2.1" />
<ellipse cx="667.5" cy="367" rx="107.5" ry="53.8" transform="rotate(60 667.5 367)" fill="none" stroke="#000" stroke-width="2.9"/>
<ellipse cx="667.8" cy="368.7" rx="46" ry="25.3" transform="rotate(60 667.8 368.7)" fill="#fff" stroke="#000" stroke-width="2.9"/>
<clipPath id="c1"><ellipse cx="667.8" cy="368.7" rx="46" ry="25.3" transform="rotate(60 667.8 368.7)"/></clipPath>
<g clip-path="url(#c1)">
<ellipse cx="673.4" cy="365.4" rx="46" ry="25.3" transform="rotate(60 673.4 365.4)" fill="none" stroke="#000" stroke-width="2.1"/>
<ellipse cx="678.6" cy="362.4" rx="46" ry="25.3" transform="rotate(60 678.6 362.4)" fill="none" stroke="#000" stroke-width="2.1"/>
<ellipse cx="683.8" cy="359.4" rx="46" ry="25.3" transform="rotate(60 683.8 359.4)" fill="none" stroke="#000" stroke-width="2.1"/>
<ellipse cx="689" cy="356.4" rx="46" ry="25.3" transform="rotate(60 689 356.4)" fill="none" stroke="#000" stroke-width="2.1"/>
<ellipse cx="694.6" cy="353.2" rx="46" ry="25.3" transform="rotate(60 694.6 353.2)" fill="none" stroke="#000" stroke-width="2.9"/>
</g>
<path d="M948.8 83.4A104 60 60 0 0 948.8 203.5A104 60 60 0 0 1052.8 263.6L1060.6 259.1A104 60 60 0 1 956.6 199A104 60 60 0 1 956.6 78.9Z" fill="#fff" stroke="#000" stroke-width="2.3" />
<path d="M1080.7 207.9A114 65.8 60 0 0 943.8 74.8L951.6 70.3A114 65.8 60 0 1 1088.5 203.4Z" fill="#fff" stroke="#000" stroke-width="2.3" />
<path d="M1057.8 272.2A114 65.8 60 0 0 1081 228.5L1088.8 224A114 65.8 60 0 1 1065.6 267.7Z" fill="#fff" stroke="#000" stroke-width="2.3" />
<path d="M1080.7 207.9A114 65.8 60 0 0 956.8 70.1A114 65.8 60 0 0 959.2 229.1A114 65.8 60 0 0 1081 228.5L1074 223.6A104 60 60 0 1 962.8 224.3A104 60 60 0 1 960.6 79.2A104 60 60 0 1 1073.7 204.8Z" fill="#fff" stroke="#000" stroke-width="2.3" />
<path d="M1081 228.5L1088.8 224L1081.8 219.1L1074 223.6Z" fill="#fff" stroke="#000" stroke-width="2.3" />
<path d="M943.8 74.8A114 65.8 60 0 0 943.8 206.4A114 65.8 60 0 0 1057.8 272.2" fill="none" stroke="#000" stroke-width="3" />
<path d="M1065.6 267.7A114 65.8 60 0 0 1088.8 224" fill="none" stroke="#000" stroke-width="3" />
<path d="M1088.5 203.4A114 65.8 60 0 0 951.6 70.3" fill="none" stroke="#000" stroke-width="3" />
<path d="M1129 396A113.5 65.5 60 0 0 1129.1 527A113.5 65.5 60 0 0 1242.5 592.6L1250.3 588.1A113.5 65.5 60 0 1 1136.9 522.5A113.5 65.5 60 0 1 1136.8 391.5Z" fill="#fff" stroke="#000" stroke-width="2.3" />
<path d="M1272 528.3A123.5 71.3 60 0 0 1124 387.3L1131.8 382.8A123.5 71.3 60 0 1 1279.8 523.8Z" fill="#fff" stroke="#000" stroke-width="2.3" />
<path d="M1247.5 601.3A123.5 71.3 60 0 0 1271.5 563L1279.3 558.5A123.5 71.3 60 0 1 1255.3 596.8Z" fill="#fff" stroke="#000" stroke-width="2.3" />
<path d="M1272 528.3A123.5 71.3 60 0 0 1098.5 442.1A123.5 71.3 60 0 0 1271.5 563L1264.6 557.5A113.5 65.5 60 0 1 1105.6 446.3A113.5 65.5 60 0 1 1265 525.6Z" fill="#fff" stroke="#000" stroke-width="2.3" />
<path d="M1271.5 563L1279.3 558.5L1272.4 553L1264.6 557.5Z" fill="#fff" stroke="#000" stroke-width="2.3" />
<path d="M1124 387.3A123.5 71.3 60 0 0 1124.1 529.9A123.5 71.3 60 0 0 1247.5 601.3" fill="none" stroke="#000" stroke-width="3" />
<path d="M1255.3 596.8A123.5 71.3 60 0 0 1279.3 558.5" fill="none" stroke="#000" stroke-width="3" />
<path d="M1279.8 523.8A123.5 71.3 60 0 0 1131.8 382.8" fill="none" stroke="#000" stroke-width="3" />
<path d="M1558.2 237A34.5 19.9 60 0 0 1558.2 276.9A34.5 19.9 60 0 0 1592.7 296.8L1597.8 293.8A34.5 19.9 60 0 1 1563.4 273.9A34.5 19.9 60 0 1 1563.3 234Z" fill="#fff" stroke="#000" stroke-width="2.3" />
<path d="M1607 278.1A45.5 26.3 60 0 0 1552.7 227.5L1557.8 224.5A45.5 26.3 60 0 1 1612.2 275.1Z" fill="#fff" stroke="#000" stroke-width="2.3" />
<path d="M1598.2 306.3A45.5 26.3 60 0 0 1606.9 292.8L1612.1 289.8A45.5 26.3 60 0 1 1603.3 303.3Z" fill="#fff" stroke="#000" stroke-width="2.3" />
<path d="M1607 278.1A45.5 26.3 60 0 0 1543.2 248A45.5 26.3 60 0 0 1606.9 292.8L1599.3 286.5A34.5 19.9 60 0 1 1551 252.6A34.5 19.9 60 0 1 1599.3 275.4Z" fill="#fff" stroke="#000" stroke-width="2.3" />
<path d="M1606.9 292.8L1612.1 289.8L1604.5 283.5L1599.3 286.5Z" fill="#fff" stroke="#000" stroke-width="2.3" />
<path d="M1552.7 227.5A45.5 26.3 60 0 0 1552.7 280A45.5 26.3 60 0 0 1598.2 306.3" fill="none" stroke="#000" stroke-width="3" />
<path d="M1603.3 303.3A45.5 26.3 60 0 0 1612.1 289.8" fill="none" stroke="#000" stroke-width="3" />
<path d="M1612.2 275.1A45.5 26.3 60 0 0 1557.8 224.5" fill="none" stroke="#000" stroke-width="3" />
<path d="M1109.2 673.4L1113.6 681.2L1118.2 678.4L1122.4 675L1117.3 667.6L1120 665L1122.4 662.1L1127.8 669L1131 664.2L1133.8 658.9L1127.9 652.7L1129.5 648.9L1130.9 644.8L1137 650.4L1138.6 643.9L1139.7 637L1133.4 632.4L1133.9 627.6L1134.1 622.6L1140.5 626.5L1140.4 618.8L1139.8 610.9L1133.4 608.2L1132.8 602.7L1131.8 597.2L1138 599L1136.2 590.6L1133.9 582.2L1128.1 581.6L1126.3 575.9L1124.2 570.1L1129.8 569.8L1126.4 561.3L1122.6 552.9L1117.6 554.4L1114.8 548.9L1111.8 543.3L1116.4 540.9L1111.7 532.9L1106.6 525.1L1102.7 528.7L1099.2 523.6L1095.4 518.6L1098.7 514.3L1093 507.2L1087 500.6L1084.5 505.9L1080.4 501.7L1076.2 497.7L1078 491.7L1071.6 486.1L1065.1 481.1L1064.2 487.9L1059.8 484.8L1055.4 482L1055.6 474.7L1049 471L1042.4 467.9L1043.2 475.6L1038.8 473.9L1034.5 472.5L1033 464.5L1026.6 462.9L1020.4 461.9L1022.9 470.1L1018.8 469.9L1014.9 469.9L1011.8 461.7L1006.2 462.3L1000.8 463.6L1004.6 471.7L1001.2 472.9L997.9 474.4L993.5 466.6L988.9 469.4L984.7 472.8L989.7 480.2L987.1 482.8L984.7 485.7L979.3 478.8L976 483.6L973.3 488.9L979.1 495.1L977.6 498.9L976.2 503L970.1 497.4L968.5 503.9L967.4 510.8L973.7 515.4L973.2 520.2L973 525.2L966.6 521.3L966.7 529L967.3 536.9L973.6 539.6L974.3 545.1L975.2 550.6L969 548.8L970.8 557.2L973.1 565.6L979 566.2L980.8 571.9L982.8 577.7L977.2 578L980.6 586.5L984.4 594.9L989.5 593.4L992.3 598.9L995.2 604.5L990.6 606.9L995.4 614.9L1000.4 622.7L1004.3 619.1L1007.9 624.2L1011.6 629.2L1008.3 633.5L1014.1 640.6L1020.1 647.2L1022.5 641.9L1026.7 646.1L1030.9 650.1L1029.1 656.1L1035.5 661.7L1042 666.7L1042.8 659.9L1047.2 663L1051.7 665.8L1051.5 673.1L1058.1 676.8L1064.7 679.9L1063.9 672.2L1068.2 673.9L1072.6 675.3L1074.1 683.3L1080.4 684.9L1086.6 685.9L1084.2 677.7L1088.2 677.9L1092.2 677.9L1095.2 686.1L1100.9 685.5L1106.3 684.2L1102.4 676.1L1105.9 674.9ZM1104 656.4A93 53.7 60 0 0 1074.5 512.4A93 53.7 60 0 0 994 558.9A93 53.7 60 0 0 1104 656.4Z" fill="#fff" stroke="#000" stroke-width="2.9" fill-rule="evenodd"/>
<path d="M1102.2 677.4L1109.2 673.4M1106.6 685.2L1113.6 681.2M1111.2 682.4L1118.2 678.4M1115.5 679L1122.4 675M1110.4 671.6L1117.3 667.6M1113 669L1120 665M1115.4 666.1L1122.4 662.1M1120.9 673L1127.8 669M1124.1 668.2L1131 664.2M1126.9 662.9L1133.8 658.9M1121 656.7L1127.9 652.7M1122.6 652.9L1129.5 648.9M1123.9 648.8L1130.9 644.8M1130 654.4L1137 650.4M1131.7 647.9L1138.6 643.9M1132.8 641L1139.7 637M1126.5 636.4L1133.4 632.4M1126.9 631.6L1133.9 627.6M1127.2 626.6L1134.1 622.6M1133.5 630.5L1140.5 626.5M1133.4 622.8L1140.4 618.8M1132.8 614.9L1139.8 610.9M1126.5 612.2L1133.4 608.2M1125.8 606.7L1132.8 602.7M1124.9 601.2L1131.8 597.2M1131.1 603L1138 599M1129.3 594.6L1136.2 590.6M1127 586.2L1133.9 582.2M1121.1 585.6L1128.1 581.6M1119.3 579.9L1126.3 575.9M1117.3 574.1L1124.2 570.1M1122.9 573.8L1129.8 569.8M1119.5 565.3L1126.4 561.3M1115.7 556.9L1122.6 552.9M1110.6 558.4L1117.6 554.4M1107.9 552.9L1114.8 548.9M1104.9 547.3L1111.8 543.3M1109.5 544.9L1116.4 540.9M1104.8 536.9L1111.7 532.9M1099.7 529.1L1106.6 525.1M1095.8 532.7L1102.7 528.7M1092.2 527.6L1099.2 523.6M1088.5 522.6L1095.4 518.6M1091.8 518.3L1098.7 514.3M1086 511.2L1093 507.2M1080.1 504.6L1087 500.6M1077.6 509.9L1084.5 505.9M1073.5 505.7L1080.4 501.7M1069.3 501.7L1076.2 497.7M1071.1 495.7L1078 491.7M1064.7 490.1L1071.6 486.1M1058.1 485.1L1065.1 481.1M1057.3 491.9L1064.2 487.9M1052.9 488.8L1059.8 484.8M1048.5 486L1055.4 482M1048.6 478.7L1055.6 474.7M1042 475L1049 471M1035.5 471.9L1042.4 467.9M1036.3 479.6L1043.2 475.6M1031.9 477.9L1038.8 473.9M1027.6 476.5L1034.5 472.5M1026.1 468.5L1033 464.5M1019.7 466.9L1026.6 462.9M1013.5 465.9L1020.4 461.9M1015.9 474.1L1022.9 470.1M1011.9 473.9L1018.8 469.9M1007.9 473.9L1014.9 469.9M1004.9 465.7L1011.8 461.7M999.2 466.3L1006.2 462.3M993.8 467.6L1000.8 463.6M997.7 475.7L1004.6 471.7M994.2 476.9L1001.2 472.9M991 478.4L997.9 474.4M986.6 470.6L993.5 466.6M982 473.4L988.9 469.4M977.7 476.8L984.7 472.8M982.8 484.2L989.7 480.2M980.2 486.8L987.1 482.8M977.8 489.7L984.7 485.7M972.3 482.8L979.3 478.8M969.1 487.6L976 483.6M966.3 492.9L973.3 488.9M972.2 499.1L979.1 495.1M970.6 502.9L977.6 498.9M969.3 507L976.2 503M963.2 501.4L970.1 497.4M961.5 507.9L968.5 503.9M960.4 514.8L967.4 510.8M966.7 519.4L973.7 515.4M966.3 524.2L973.2 520.2M966 529.2L973 525.2M959.7 525.3L966.6 521.3M959.8 533L966.7 529M960.4 540.9L967.3 536.9M966.7 543.6L973.6 539.6M967.4 549.1L974.3 545.1M968.3 554.6L975.2 550.6M962.1 552.8L969 548.8M963.9 561.2L970.8 557.2M966.2 569.6L973.1 565.6M972.1 570.2L979 566.2M973.9 575.9L980.8 571.9M975.9 581.7L982.8 577.7M970.3 582L977.2 578M973.7 590.5L980.6 586.5M977.5 598.9L984.4 594.9M982.6 597.4L989.5 593.4M985.3 602.9L992.3 598.9M988.3 608.5L995.2 604.5M983.7 610.9L990.6 606.9M988.4 618.9L995.4 614.9M993.5 626.7L1000.4 622.7M997.4 623.1L1004.3 619.1M1001 628.2L1007.9 624.2M1004.7 633.2L1011.6 629.2M1001.4 637.5L1008.3 633.5M1007.2 644.6L1014.1 640.6M1013.1 651.2L1020.1 647.2M1015.6 645.9L1022.5 641.9M1019.7 650.1L1026.7 646.1M1023.9 654.1L1030.9 650.1M1022.1 660.1L1029.1 656.1M1028.5 665.7L1035.5 661.7M1035.1 670.7L1042 666.7M1035.9 663.9L1042.8 659.9M1040.3 667L1047.2 663M1044.7 669.8L1051.7 665.8M1044.6 677.1L1051.5 673.1M1051.2 680.8L1058.1 676.8M1057.7 683.9L1064.7 679.9M1056.9 676.2L1063.9 672.2M1061.3 677.9L1068.2 673.9M1065.6 679.3L1072.6 675.3M1067.1 687.3L1074.1 683.3M1073.5 688.9L1080.4 684.9M1079.7 689.9L1086.6 685.9M1077.3 681.7L1084.2 677.7M1081.3 681.9L1088.2 677.9M1085.3 681.9L1092.2 677.9M1088.3 690.1L1095.2 686.1M1094 689.5L1100.9 685.5M1099.4 688.2L1106.3 684.2M1095.5 680.1L1102.4 676.1M1099 678.9L1105.9 674.9" fill="none" stroke="#000" stroke-width="1.2" />
<path d="M1102.2 677.4L1106.6 685.2L1111.2 682.4L1115.5 679L1110.4 671.6L1113 669L1115.4 666.1L1120.9 673L1124.1 668.2L1126.9 662.9L1121 656.7L1122.6 652.9L1123.9 648.8L1130 654.4L1131.7 647.9L1132.8 641L1126.5 636.4L1126.9 631.6L1127.2 626.6L1133.5 630.5L1133.4 622.8L1132.8 614.9L1126.5 612.2L1125.8 606.7L1124.9 601.2L1131.1 603L1129.3 594.6L1127 586.2L1121.1 585.6L1119.3 579.9L1117.3 574.1L1122.9 573.8L1119.5 565.3L1115.7 556.9L1110.6 558.4L1107.9 552.9L1104.9 547.3L1109.5 544.9L1104.8 536.9L1099.7 529.1L1095.8 532.7L1092.2 527.6L1088.5 522.6L1091.8 518.3L1086 511.2L1080.1 504.6L1077.6 509.9L1073.5 505.7L1069.3 501.7L1071.1 495.7L1064.7 490.1L1058.1 485.1L1057.3 491.9L1052.9 488.8L1048.5 486L1048.6 478.7L1042 475L1035.5 471.9L1036.3 479.6L1031.9 477.9L1027.6 476.5L1026.1 468.5L1019.7 466.9L1013.5 465.9L1015.9 474.1L1011.9 473.9L1007.9 473.9L1004.9 465.7L999.2 466.3L993.8 467.6L997.7 475.7L994.2 476.9L991 478.4L986.6 470.6L982 473.4L977.7 476.8L982.8 484.2L980.2 486.8L977.8 489.7L972.3 482.8L969.1 487.6L966.3 492.9L972.2 499.1L970.6 502.9L969.3 507L963.2 501.4L961.5 507.9L960.4 514.8L966.7 519.4L966.3 524.2L966 529.2L959.7 525.3L959.8 533L960.4 540.9L966.7 543.6L967.4 549.1L968.3 554.6L962.1 552.8L963.9 561.2L966.2 569.6L972.1 570.2L973.9 575.9L975.9 581.7L970.3 582L973.7 590.5L977.5 598.9L982.6 597.4L985.3 602.9L988.3 608.5L983.7 610.9L988.4 618.9L993.5 626.7L997.4 623.1L1001 628.2L1004.7 633.2L1001.4 637.5L1007.2 644.6L1013.1 651.2L1015.6 645.9L1019.7 650.1L1023.9 654.1L1022.1 660.1L1028.5 665.7L1035.1 670.7L1035.9 663.9L1040.3 667L1044.7 669.8L1044.6 677.1L1051.2 680.8L1057.7 683.9L1056.9 676.2L1061.3 677.9L1065.6 679.3L1067.1 687.3L1073.5 688.9L1079.7 689.9L1077.3 681.7L1081.3 681.9L1085.3 681.9L1088.3 690.1L1094 689.5L1099.4 688.2L1095.5 680.1L1099 678.9ZM1097.1 660.4A93 53.7 60 0 0 1067.6 516.4A93 53.7 60 0 0 987.1 562.9A93 53.7 60 0 0 1097.1 660.4Z" fill="#fff" stroke="#000" stroke-width="2.9" fill-rule="evenodd"/>
<path d="M1043.2 717.1A121 69.8 60 0 0 1004.9 529.7A121 69.8 60 0 0 900.1 590.1A121 69.8 60 0 0 1043.2 717.1ZM1024.2 684.2L1018.9 669.8L1029.3 680.4L1022.7 666.2L1033.6 675.5L1025.9 661.8L1037 669.5L1028.3 656.4L1039.4 662.6L1029.9 650.4L1040.9 654.7L1030.7 643.6L1041.4 646.2L1030.7 636.4L1040.9 637.1L1029.9 628.7L1039.4 627.5L1028.3 620.8L1036.9 617.7L1025.9 612.7L1033.6 607.8L1022.7 604.5L1029.3 597.9L1018.9 596.6L1024.2 588.4L1014.4 588.9L1018.5 579.2L1009.4 581.6L1012.1 570.6L1004 574.8L1005.2 562.7L998.2 568.7L997.9 555.6L992.1 563.3L990.4 549.5L985.9 558.7L982.7 544.5L979.6 555.1L975.1 540.7L973.4 552.4L967.5 538.1L967.3 550.8L960.3 536.7L961.5 550.2L953.4 536.7L956 550.7L947 537.9L951 552.3L941.2 540.4L946.6 554.8L936.2 544.2L942.8 558.4L931.9 549.1L939.6 562.8L928.5 555.1L937.2 568.2L926.1 562L935.6 574.2L924.6 569.9L934.8 581L924.1 578.4L934.8 588.2L924.6 587.5L935.6 595.9L926.1 597.1L937.2 603.8L928.6 606.9L939.6 611.9L931.9 616.8L942.8 620.1L936.2 626.7L946.6 628L941.3 636.2L951.1 635.7L947 645.4L956.1 643L953.4 654L961.5 649.8L960.3 661.9L967.3 655.9L967.6 669L973.4 661.3L975.1 675.1L979.6 665.9L982.8 680.1L985.9 669.5L990.4 683.9L992.1 672.2L998 686.5L998.2 673.8L1005.2 687.9L1004 674.4L1012.1 687.9L1009.5 673.9L1018.5 686.7L1014.5 672.3Z" fill="#fff" stroke="#000" stroke-width="2.3" fill-rule="evenodd" stroke-linejoin="miter" stroke-miterlimit="2.5"/>
<path d="M1043.2 717.1A121 69.8 60 0 0 1004.9 529.7A121 69.8 60 0 0 900.1 590.1A121 69.8 60 0 0 1043.2 717.1Z" fill="none" stroke="#000" stroke-width="2.9" />
<path d="M1030.7 695.4A95.9 55.3 60 0 0 1000.3 546.8A95.9 55.3 60 0 0 917.3 594.7A95.9 55.3 60 0 0 1030.7 695.4ZM1036 704.6A106.6 61.5 60 0 0 1002.2 539.5A106.6 61.5 60 0 0 910 592.8A106.6 61.5 60 0 0 1036 704.6ZM1039.8 711A114 65.8 60 0 0 1003.6 534.5A114 65.8 60 0 0 904.9 591.4A114 65.8 60 0 0 1039.8 711ZM1024.8 685L1048 704.7M1033 677.8L1056.9 691.7M1038.8 667.3L1062 674.7M1041.8 654.1L1063.3 654.6M1041.8 638.7L1060.4 632.4M1038.8 622L1053.7 609.2M1033 604.9L1043.4 586.1M1024.7 588.1L1030.1 564.4M1014.3 572.5L1014.4 545M1002.3 558.9L997.1 529M989.4 548L979.1 517.2M976.1 540.3L961.3 510.2M963.1 536.2L944.5 508.3M951.1 536L929.7 511.6M940.8 539.6L917.5 519.9M932.5 546.8L908.6 532.9M926.7 557.3L903.5 549.9M923.7 570.5L902.2 570M923.7 585.9L905.1 592.2M926.7 602.6L911.8 615.4M932.5 619.7L922.1 638.5M940.8 636.5L935.4 660.2M951.2 652.1L951.1 679.6M963.2 665.7L968.4 695.6M976.1 676.6L986.4 707.4M989.4 684.3L1004.2 714.4M1002.4 688.4L1021 716.3M1014.4 688.6L1035.8 713" fill="none" stroke="#000" stroke-width="1.7" />
<path d="M966.6 755L971 762.8L975.6 760L979.8 756.6L974.8 749.2L977.4 746.6L979.8 743.7L985.2 750.6L988.4 745.8L991.2 740.5L985.3 734.3L986.9 730.5L988.3 726.4L994.4 732L996 725.5L997.1 718.6L990.8 714L991.3 709.2L991.5 704.2L997.9 708.1L997.8 700.4L997.2 692.5L990.9 689.8L990.2 684.3L989.3 678.8L995.4 680.6L993.6 672.2L991.4 663.8L985.5 663.2L983.7 657.5L981.7 651.7L987.3 651.4L983.9 642.9L980.1 634.5L975 636L972.2 630.5L969.3 624.9L973.9 622.5L969.1 614.5L964.1 606.7L960.2 610.3L956.6 605.2L952.9 600.2L956.2 595.9L950.4 588.8L944.4 582.2L942 587.5L937.8 583.3L933.6 579.3L935.4 573.3L929 567.7L922.5 562.7L921.7 569.5L917.3 566.4L912.8 563.6L913 556.3L906.4 552.6L899.8 549.5L900.6 557.2L896.3 555.5L891.9 554.1L890.4 546.1L884.1 544.5L877.9 543.5L880.3 551.7L876.2 551.5L872.3 551.5L869.3 543.3L863.6 543.9L858.2 545.2L862.1 553.3L858.6 554.5L855.3 556L850.9 548.2L846.3 551L842.1 554.4L847.1 561.8L844.5 564.4L842.1 567.3L836.7 560.4L833.5 565.2L830.7 570.5L836.6 576.7L835 580.5L833.6 584.6L827.5 579L825.9 585.5L824.8 592.4L831.1 597L830.6 601.8L830.4 606.8L824 602.9L824.1 610.6L824.7 618.5L831 621.2L831.7 626.7L832.7 632.2L826.5 630.4L828.3 638.8L830.6 647.2L836.4 647.8L838.2 653.5L840.3 659.3L834.7 659.6L838.1 668.1L841.9 676.5L846.9 675L849.7 680.5L852.7 686.1L848.1 688.5L852.8 696.5L857.9 704.3L861.8 700.7L865.3 705.8L869.1 710.8L865.8 715.1L871.5 722.2L877.5 728.8L880 723.5L884.1 727.7L888.3 731.7L886.5 737.7L892.9 743.3L899.4 748.3L900.3 741.5L904.7 744.6L909.1 747.4L908.9 754.7L915.5 758.4L922.1 761.5L921.3 753.8L925.7 755.5L930 756.9L931.5 764.9L937.9 766.5L944.1 767.5L941.6 759.3L945.7 759.5L949.6 759.5L952.7 767.7L958.3 767.1L963.7 765.8L959.9 757.7L963.3 756.5ZM961.5 738A93 53.7 60 0 0 932 594A93 53.7 60 0 0 851.5 640.5A93 53.7 60 0 0 961.5 738Z" fill="#fff" stroke="#000" stroke-width="2.9" fill-rule="evenodd"/>
<path d="M963.1 757L966.6 755M967.5 764.8L971 762.8M972.1 762L975.6 760M976.4 758.6L979.8 756.6M971.3 751.2L974.8 749.2M973.9 748.6L977.4 746.6M976.3 745.7L979.8 743.7M981.8 752.6L985.2 750.6M985 747.8L988.4 745.8M987.8 742.5L991.2 740.5M981.9 736.3L985.3 734.3M983.5 732.5L986.9 730.5M984.8 728.4L988.3 726.4M990.9 734L994.4 732M992.6 727.5L996 725.5M993.7 720.6L997.1 718.6M987.4 716L990.8 714M987.8 711.2L991.3 709.2M988.1 706.2L991.5 704.2M994.4 710.1L997.9 708.1M994.3 702.4L997.8 700.4M993.7 694.5L997.2 692.5M987.4 691.8L990.9 689.8M986.7 686.3L990.2 684.3M985.8 680.8L989.3 678.8M992 682.6L995.4 680.6M990.2 674.2L993.6 672.2M987.9 665.8L991.4 663.8M982 665.2L985.5 663.2M980.2 659.5L983.7 657.5M978.2 653.7L981.7 651.7M983.8 653.4L987.3 651.4M980.4 644.9L983.9 642.9M976.6 636.5L980.1 634.5M971.5 638L975 636M968.8 632.5L972.2 630.5M965.8 626.9L969.3 624.9M970.4 624.5L973.9 622.5M965.7 616.5L969.1 614.5M960.6 608.7L964.1 606.7M956.7 612.3L960.2 610.3M953.1 607.2L956.6 605.2M949.4 602.2L952.9 600.2M952.7 597.9L956.2 595.9M946.9 590.8L950.4 588.8M941 584.2L944.4 582.2M938.5 589.5L942 587.5M934.4 585.3L937.8 583.3M930.2 581.3L933.6 579.3M932 575.3L935.4 573.3M925.6 569.7L929 567.7M919 564.7L922.5 562.7M918.2 571.5L921.7 569.5M913.8 568.4L917.3 566.4M909.4 565.6L912.8 563.6M909.5 558.3L913 556.3M902.9 554.6L906.4 552.6M896.4 551.5L899.8 549.5M897.2 559.2L900.6 557.2M892.8 557.5L896.3 555.5M888.5 556.1L891.9 554.1M887 548.1L890.4 546.1M880.6 546.5L884.1 544.5M874.4 545.5L877.9 543.5M876.8 553.7L880.3 551.7M872.8 553.5L876.2 551.5M868.8 553.5L872.3 551.5M865.8 545.3L869.3 543.3M860.1 545.9L863.6 543.9M854.7 547.2L858.2 545.2M858.6 555.3L862.1 553.3M855.1 556.5L858.6 554.5M851.9 558L855.3 556M847.5 550.2L850.9 548.2M842.9 553L846.3 551M838.6 556.4L842.1 554.4M843.7 563.8L847.1 561.8M841.1 566.4L844.5 564.4M838.7 569.3L842.1 567.3M833.2 562.4L836.7 560.4M830 567.2L833.5 565.2M827.2 572.5L830.7 570.5M833.1 578.7L836.6 576.7M831.5 582.5L835 580.5M830.2 586.6L833.6 584.6M824.1 581L827.5 579M822.4 587.5L825.9 585.5M821.3 594.4L824.8 592.4M827.6 599L831.1 597M827.2 603.8L830.6 601.8M826.9 608.8L830.4 606.8M820.6 604.9L824 602.9M820.7 612.6L824.1 610.6M821.3 620.5L824.7 618.5M827.6 623.2L831 621.2M828.3 628.7L831.7 626.7M829.2 634.2L832.7 632.2M823 632.4L826.5 630.4M824.8 640.8L828.3 638.8M827.1 649.2L830.6 647.2M833 649.8L836.4 647.8M834.8 655.5L838.2 653.5M836.8 661.3L840.3 659.3M831.2 661.6L834.7 659.6M834.6 670.1L838.1 668.1M838.4 678.5L841.9 676.5M843.5 677L846.9 675M846.2 682.5L849.7 680.5M849.2 688.1L852.7 686.1M844.6 690.5L848.1 688.5M849.3 698.5L852.8 696.5M854.4 706.3L857.9 704.3M858.3 702.7L861.8 700.7M861.9 707.8L865.3 705.8M865.6 712.8L869.1 710.8M862.3 717.1L865.8 715.1M868.1 724.2L871.5 722.2M874 730.8L877.5 728.8M876.5 725.5L880 723.5M880.6 729.7L884.1 727.7M884.8 733.7L888.3 731.7M883 739.7L886.5 737.7M889.4 745.3L892.9 743.3M896 750.3L899.4 748.3M896.8 743.5L900.3 741.5M901.2 746.6L904.7 744.6M905.6 749.4L909.1 747.4M905.5 756.7L908.9 754.7M912.1 760.4L915.5 758.4M918.6 763.5L922.1 761.5M917.8 755.8L921.3 753.8M922.2 757.5L925.7 755.5M926.5 758.9L930 756.9M928 766.9L931.5 764.9M934.4 768.5L937.9 766.5M940.6 769.5L944.1 767.5M938.2 761.3L941.6 759.3M942.2 761.5L945.7 759.5M946.2 761.5L949.6 759.5M949.2 769.7L952.7 767.7M954.9 769.1L958.3 767.1M960.3 767.8L963.7 765.8M956.4 759.7L959.9 757.7M959.9 758.5L963.3 756.5" fill="none" stroke="#000" stroke-width="1.2" />
<path d="M963.1 757L967.5 764.8L972.1 762L976.4 758.6L971.3 751.2L973.9 748.6L976.3 745.7L981.8 752.6L985 747.8L987.8 742.5L981.9 736.3L983.5 732.5L984.8 728.4L990.9 734L992.6 727.5L993.7 720.6L987.4 716L987.8 711.2L988.1 706.2L994.4 710.1L994.3 702.4L993.7 694.5L987.4 691.8L986.7 686.3L985.8 680.8L992 682.6L990.2 674.2L987.9 665.8L982 665.2L980.2 659.5L978.2 653.7L983.8 653.4L980.4 644.9L976.6 636.5L971.5 638L968.8 632.5L965.8 626.9L970.4 624.5L965.7 616.5L960.6 608.7L956.7 612.3L953.1 607.2L949.4 602.2L952.7 597.9L946.9 590.8L941 584.2L938.5 589.5L934.4 585.3L930.2 581.3L932 575.3L925.6 569.7L919 564.7L918.2 571.5L913.8 568.4L909.4 565.6L909.5 558.3L902.9 554.6L896.4 551.5L897.2 559.2L892.8 557.5L888.5 556.1L887 548.1L880.6 546.5L874.4 545.5L876.8 553.7L872.8 553.5L868.8 553.5L865.8 545.3L860.1 545.9L854.7 547.2L858.6 555.3L855.1 556.5L851.9 558L847.5 550.2L842.9 553L838.6 556.4L843.7 563.8L841.1 566.4L838.7 569.3L833.2 562.4L830 567.2L827.2 572.5L833.1 578.7L831.5 582.5L830.2 586.6L824.1 581L822.4 587.5L821.3 594.4L827.6 599L827.2 603.8L826.9 608.8L820.6 604.9L820.7 612.6L821.3 620.5L827.6 623.2L828.3 628.7L829.2 634.2L823 632.4L824.8 640.8L827.1 649.2L833 649.8L834.8 655.5L836.8 661.3L831.2 661.6L834.6 670.1L838.4 678.5L843.5 677L846.2 682.5L849.2 688.1L844.6 690.5L849.3 698.5L854.4 706.3L858.3 702.7L861.9 707.8L865.6 712.8L862.3 717.1L868.1 724.2L874 730.8L876.5 725.5L880.6 729.7L884.8 733.7L883 739.7L889.4 745.3L896 750.3L896.8 743.5L901.2 746.6L905.6 749.4L905.5 756.7L912.1 760.4L918.6 763.5L917.8 755.8L922.2 757.5L926.5 758.9L928 766.9L934.4 768.5L940.6 769.5L938.2 761.3L942.2 761.5L946.2 761.5L949.2 769.7L954.9 769.1L960.3 767.8L956.4 759.7L959.9 758.5ZM958 740A93 53.7 60 0 0 928.5 596A93 53.7 60 0 0 848 642.5A93 53.7 60 0 0 958 740Z" fill="#fff" stroke="#000" stroke-width="2.9" fill-rule="evenodd"/>
<path d="M909 798.5A121 69.8 60 0 0 870.6 611.1A121 69.8 60 0 0 765.9 671.5A121 69.8 60 0 0 909 798.5ZM890 765.6L884.6 751.2L895.1 761.8L888.5 747.6L899.3 756.9L891.6 743.2L902.7 750.9L894 737.8L905.2 744L895.6 731.8L906.7 736.1L896.5 725L907.2 727.6L896.5 717.8L906.7 718.5L895.6 710.1L905.2 708.9L894 702.2L902.7 699.1L891.6 694.1L899.3 689.2L888.5 685.9L895 679.3L884.6 678L890 669.8L880.2 670.3L884.2 660.6L875.2 663L877.8 652L869.7 656.2L870.9 644.1L863.9 650.1L863.7 637L857.9 644.7L856.1 630.9L851.6 640.1L848.5 625.9L845.3 636.5L840.8 622.1L839.1 633.8L833.3 619.5L833 632.2L826 618.1L827.2 631.6L819.1 618.1L821.8 632.1L812.8 619.3L816.8 633.7L807 621.8L812.4 636.2L801.9 625.6L808.5 639.8L797.7 630.5L805.4 644.2L794.3 636.5L803 649.6L791.8 643.4L801.4 655.6L790.3 651.3L800.5 662.4L789.8 659.8L800.5 669.6L790.3 668.9L801.4 677.3L791.8 678.5L803 685.2L794.3 688.3L805.4 693.3L797.7 698.2L808.5 701.5L802 708.1L812.4 709.4L807 717.6L816.8 717.1L812.8 726.8L821.8 724.4L819.2 735.4L827.3 731.2L826.1 743.3L833.1 737.3L833.3 750.4L839.1 742.7L840.9 756.5L845.4 747.3L848.5 761.5L851.7 750.9L856.2 765.3L857.9 753.6L863.7 767.9L864 755.2L871 769.3L869.8 755.8L877.9 769.3L875.2 755.3L884.2 768.1L880.2 753.7Z" fill="#fff" stroke="#000" stroke-width="2.3" fill-rule="evenodd" stroke-linejoin="miter" stroke-miterlimit="2.5"/>
<path d="M909 798.5A121 69.8 60 0 0 870.6 611.1A121 69.8 60 0 0 765.9 671.5A121 69.8 60 0 0 909 798.5Z" fill="none" stroke="#000" stroke-width="2.9" />
<path d="M896.5 776.8A95.9 55.3 60 0 0 866 628.2A95.9 55.3 60 0 0 783 676.1A95.9 55.3 60 0 0 896.5 776.8ZM901.8 786A106.6 61.5 60 0 0 868 620.9A106.6 61.5 60 0 0 775.7 674.2A106.6 61.5 60 0 0 901.8 786ZM905.5 792.4A114 65.8 60 0 0 869.3 615.9A114 65.8 60 0 0 770.7 672.8A114 65.8 60 0 0 905.5 792.4ZM890.5 766.4L913.7 786.1M898.8 759.2L922.6 773.1M904.6 748.7L927.8 756.1M907.5 735.5L929 736M907.5 720.1L926.2 713.8M904.5 703.4L919.5 690.6M898.8 686.3L909.2 667.5M890.5 669.5L895.8 645.8M880.1 653.9L880.1 626.4M868.1 640.3L862.9 610.4M855.1 629.4L844.9 598.6M841.8 621.7L827 591.6M828.9 617.6L810.3 589.7M816.9 617.4L795.5 593M806.5 621L783.3 601.3M798.2 628.2L774.4 614.3M792.4 638.7L769.2 631.3M789.5 651.9L768 651.4M789.5 667.3L770.8 673.6M792.5 684L777.5 696.8M798.2 701.1L787.8 719.9M806.5 717.9L801.2 741.6M816.9 733.5L816.9 761M828.9 747.1L834.1 777M841.9 758L852.1 788.8M855.2 765.7L870 795.8M868.1 769.8L886.7 797.7M880.1 770L901.5 794.4" fill="none" stroke="#000" stroke-width="1.7" />
<path d="M832.1 836L836.5 843.8L841.1 841L845.3 837.6L840.3 830.2L842.9 827.6L845.3 824.7L850.7 831.6L853.9 826.8L856.7 821.5L850.8 815.3L852.4 811.5L853.8 807.4L859.9 813L861.5 806.5L862.6 799.6L856.3 795L856.8 790.2L857 785.2L863.4 789.1L863.3 781.4L862.7 773.5L856.4 770.8L855.7 765.3L854.8 759.8L860.9 761.6L859.1 753.2L856.9 744.8L851 744.2L849.2 738.5L847.2 732.7L852.8 732.4L849.4 723.9L845.6 715.5L840.5 717L837.7 711.5L834.8 705.9L839.4 703.5L834.6 695.5L829.6 687.7L825.7 691.3L822.1 686.2L818.4 681.2L821.7 676.9L815.9 669.8L809.9 663.2L807.5 668.5L803.3 664.3L799.1 660.3L800.9 654.3L794.5 648.7L788 643.7L787.2 650.5L782.8 647.4L778.3 644.6L778.5 637.3L771.9 633.6L765.3 630.5L766.1 638.2L761.8 636.5L757.4 635.1L755.9 627.1L749.6 625.5L743.4 624.5L745.8 632.7L741.7 632.5L737.8 632.5L734.8 624.3L729.1 624.9L723.7 626.2L727.6 634.3L724.1 635.5L720.8 637L716.4 629.2L711.8 632L707.6 635.4L712.6 642.8L710 645.4L707.6 648.3L702.2 641.4L699 646.2L696.2 651.5L702.1 657.7L700.5 661.5L699.1 665.6L693 660L691.4 666.5L690.3 673.4L696.6 678L696.1 682.8L695.9 687.8L689.5 683.9L689.6 691.6L690.2 699.5L696.5 702.2L697.2 707.7L698.2 713.2L692 711.4L693.8 719.8L696.1 728.2L701.9 728.8L703.7 734.5L705.8 740.3L700.2 740.6L703.6 749.1L707.4 757.5L712.4 756L715.2 761.5L718.2 767.1L713.6 769.5L718.3 777.5L723.4 785.3L727.3 781.7L730.8 786.8L734.6 791.8L731.3 796.1L737 803.2L743 809.8L745.5 804.5L749.6 808.7L753.8 812.7L752 818.7L758.4 824.3L764.9 829.3L765.8 822.5L770.2 825.6L774.6 828.4L774.4 835.7L781 839.4L787.6 842.5L786.8 834.8L791.2 836.5L795.5 837.9L797 845.9L803.4 847.5L809.6 848.5L807.1 840.3L811.2 840.5L815.1 840.5L818.2 848.7L823.8 848.1L829.2 846.8L825.4 838.7L828.8 837.5ZM827 819A93 53.7 60 0 0 797.5 675A93 53.7 60 0 0 717 721.5A93 53.7 60 0 0 827 819Z" fill="#fff" stroke="#000" stroke-width="2.9" fill-rule="evenodd"/>
<path d="M828.6 838L832.1 836M833 845.8L836.5 843.8M837.6 843L841.1 841M841.9 839.6L845.3 837.6M836.8 832.2L840.3 830.2M839.4 829.6L842.9 827.6M841.8 826.7L845.3 824.7M847.3 833.6L850.7 831.6M850.5 828.8L853.9 826.8M853.3 823.5L856.7 821.5M847.4 817.3L850.8 815.3M849 813.5L852.4 811.5M850.3 809.4L853.8 807.4M856.4 815L859.9 813M858.1 808.5L861.5 806.5M859.2 801.6L862.6 799.6M852.9 797L856.3 795M853.3 792.2L856.8 790.2M853.6 787.2L857 785.2M859.9 791.1L863.4 789.1M859.8 783.4L863.3 781.4M859.2 775.5L862.7 773.5M852.9 772.8L856.4 770.8M852.2 767.3L855.7 765.3M851.3 761.8L854.8 759.8M857.5 763.6L860.9 761.6M855.7 755.2L859.1 753.2M853.4 746.8L856.9 744.8M847.5 746.2L851 744.2M845.7 740.5L849.2 738.5M843.7 734.7L847.2 732.7M849.3 734.4L852.8 732.4M845.9 725.9L849.4 723.9M842.1 717.5L845.6 715.5M837 719L840.5 717M834.3 713.5L837.7 711.5M831.3 707.9L834.8 705.9M835.9 705.5L839.4 703.5M831.2 697.5L834.6 695.5M826.1 689.7L829.6 687.7M822.2 693.3L825.7 691.3M818.6 688.2L822.1 686.2M814.9 683.2L818.4 681.2M818.2 678.9L821.7 676.9M812.4 671.8L815.9 669.8M806.5 665.2L809.9 663.2M804 670.5L807.5 668.5M799.9 666.3L803.3 664.3M795.7 662.3L799.1 660.3M797.5 656.3L800.9 654.3M791.1 650.7L794.5 648.7M784.5 645.7L788 643.7M783.7 652.5L787.2 650.5M779.3 649.4L782.8 647.4M774.9 646.6L778.3 644.6M775 639.3L778.5 637.3M768.4 635.6L771.9 633.6M761.9 632.5L765.3 630.5M762.7 640.2L766.1 638.2M758.3 638.5L761.8 636.5M754 637.1L757.4 635.1M752.5 629.1L755.9 627.1M746.1 627.5L749.6 625.5M739.9 626.5L743.4 624.5M742.3 634.7L745.8 632.7M738.3 634.5L741.7 632.5M734.3 634.5L737.8 632.5M731.3 626.3L734.8 624.3M725.6 626.9L729.1 624.9M720.2 628.2L723.7 626.2M724.1 636.3L727.6 634.3M720.6 637.5L724.1 635.5M717.4 639L720.8 637M713 631.2L716.4 629.2M708.4 634L711.8 632M704.1 637.4L707.6 635.4M709.2 644.8L712.6 642.8M706.6 647.4L710 645.4M704.2 650.3L707.6 648.3M698.7 643.4L702.2 641.4M695.5 648.2L699 646.2M692.7 653.5L696.2 651.5M698.6 659.7L702.1 657.7M697 663.5L700.5 661.5M695.7 667.6L699.1 665.6M689.6 662L693 660M687.9 668.5L691.4 666.5M686.8 675.4L690.3 673.4M693.1 680L696.6 678M692.7 684.8L696.1 682.8M692.4 689.8L695.9 687.8M686.1 685.9L689.5 683.9M686.2 693.6L689.6 691.6M686.8 701.5L690.2 699.5M693.1 704.2L696.5 702.2M693.8 709.7L697.2 707.7M694.7 715.2L698.2 713.2M688.5 713.4L692 711.4M690.3 721.8L693.8 719.8M692.6 730.2L696.1 728.2M698.5 730.8L701.9 728.8M700.3 736.5L703.7 734.5M702.3 742.3L705.8 740.3M696.7 742.6L700.2 740.6M700.1 751.1L703.6 749.1M703.9 759.5L707.4 757.5M709 758L712.4 756M711.7 763.5L715.2 761.5M714.7 769.1L718.2 767.1M710.1 771.5L713.6 769.5M714.8 779.5L718.3 777.5M719.9 787.3L723.4 785.3M723.8 783.7L727.3 781.7M727.4 788.8L730.8 786.8M731.1 793.8L734.6 791.8M727.8 798.1L731.3 796.1M733.6 805.2L737 803.2M739.5 811.8L743 809.8M742 806.5L745.5 804.5M746.1 810.7L749.6 808.7M750.3 814.7L753.8 812.7M748.5 820.7L752 818.7M754.9 826.3L758.4 824.3M761.5 831.3L764.9 829.3M762.3 824.5L765.8 822.5M766.7 827.6L770.2 825.6M771.1 830.4L774.6 828.4M771 837.7L774.4 835.7M777.6 841.4L781 839.4M784.1 844.5L787.6 842.5M783.3 836.8L786.8 834.8M787.7 838.5L791.2 836.5M792 839.9L795.5 837.9M793.5 847.9L797 845.9M799.9 849.5L803.4 847.5M806.1 850.5L809.6 848.5M803.7 842.3L807.1 840.3M807.7 842.5L811.2 840.5M811.7 842.5L815.1 840.5M814.7 850.7L818.2 848.7M820.4 850.1L823.8 848.1M825.8 848.8L829.2 846.8M821.9 840.7L825.4 838.7M825.4 839.5L828.8 837.5" fill="none" stroke="#000" stroke-width="1.2" />
<path d="M828.6 838L833 845.8L837.6 843L841.9 839.6L836.8 832.2L839.4 829.6L841.8 826.7L847.3 833.6L850.5 828.8L853.3 823.5L847.4 817.3L849 813.5L850.3 809.4L856.4 815L858.1 808.5L859.2 801.6L852.9 797L853.3 792.2L853.6 787.2L859.9 791.1L859.8 783.4L859.2 775.5L852.9 772.8L852.2 767.3L851.3 761.8L857.5 763.6L855.7 755.2L853.4 746.8L847.5 746.2L845.7 740.5L843.7 734.7L849.3 734.4L845.9 725.9L842.1 717.5L837 719L834.3 713.5L831.3 707.9L835.9 705.5L831.2 697.5L826.1 689.7L822.2 693.3L818.6 688.2L814.9 683.2L818.2 678.9L812.4 671.8L806.5 665.2L804 670.5L799.9 666.3L795.7 662.3L797.5 656.3L791.1 650.7L784.5 645.7L783.7 652.5L779.3 649.4L774.9 646.6L775 639.3L768.4 635.6L761.9 632.5L762.7 640.2L758.3 638.5L754 637.1L752.5 629.1L746.1 627.5L739.9 626.5L742.3 634.7L738.3 634.5L734.3 634.5L731.3 626.3L725.6 626.9L720.2 628.2L724.1 636.3L720.6 637.5L717.4 639L713 631.2L708.4 634L704.1 637.4L709.2 644.8L706.6 647.4L704.2 650.3L698.7 643.4L695.5 648.2L692.7 653.5L698.6 659.7L697 663.5L695.7 667.6L689.6 662L687.9 668.5L686.8 675.4L693.1 680L692.7 684.8L692.4 689.8L686.1 685.9L686.2 693.6L686.8 701.5L693.1 704.2L693.8 709.7L694.7 715.2L688.5 713.4L690.3 721.8L692.6 730.2L698.5 730.8L700.3 736.5L702.3 742.3L696.7 742.6L700.1 751.1L703.9 759.5L709 758L711.7 763.5L714.7 769.1L710.1 771.5L714.8 779.5L719.9 787.3L723.8 783.7L727.4 788.8L731.1 793.8L727.8 798.1L733.6 805.2L739.5 811.8L742 806.5L746.1 810.7L750.3 814.7L748.5 820.7L754.9 826.3L761.5 831.3L762.3 824.5L766.7 827.6L771.1 830.4L771 837.7L777.6 841.4L784.1 844.5L783.3 836.8L787.7 838.5L792 839.9L793.5 847.9L799.9 849.5L806.1 850.5L803.7 842.3L807.7 842.5L811.7 842.5L814.7 850.7L820.4 850.1L825.8 848.8L821.9 840.7L825.4 839.5ZM823.5 821A93 53.7 60 0 0 794 677A93 53.7 60 0 0 713.5 723.5A93 53.7 60 0 0 823.5 821Z" fill="#fff" stroke="#000" stroke-width="2.9" fill-rule="evenodd"/>
<path d="M761.5 883.8A121 69.8 60 0 0 723.1 696.4A121 69.8 60 0 0 618.4 756.8A121 69.8 60 0 0 761.5 883.8ZM742.5 850.9L737.1 836.5L747.6 847.1L741 832.9L751.8 842.2L744.1 828.5L755.2 836.2L746.5 823.1L757.7 829.3L748.1 817.1L759.2 821.4L749 810.3L759.7 812.9L749 803.1L759.2 803.8L748.1 795.4L757.7 794.2L746.5 787.5L755.2 784.4L744.1 779.4L751.8 774.5L741 771.2L747.5 764.6L737.1 763.3L742.5 755.1L732.7 755.6L736.7 745.9L727.7 748.3L730.3 737.3L722.2 741.5L723.4 729.4L716.4 735.4L716.2 722.3L710.4 730L708.6 716.2L704.1 725.4L701 711.2L697.8 721.8L693.3 707.4L691.6 719.1L685.8 704.8L685.5 717.5L678.5 703.4L679.7 716.9L671.6 703.4L674.3 717.4L665.3 704.6L669.3 719L659.5 707.1L664.9 721.5L654.4 710.9L661 725.1L650.2 715.8L657.9 729.5L646.8 721.8L655.5 734.9L644.3 728.7L653.9 740.9L642.8 736.6L653 747.7L642.3 745.1L653 754.9L642.8 754.2L653.9 762.6L644.3 763.8L655.5 770.5L646.8 773.6L657.9 778.6L650.2 783.5L661 786.8L654.5 793.4L664.9 794.7L659.5 802.9L669.3 802.4L665.3 812.1L674.3 809.7L671.7 820.7L679.8 816.5L678.6 828.6L685.6 822.6L685.8 835.7L691.6 828L693.4 841.8L697.9 832.6L701 846.8L704.2 836.2L708.7 850.6L710.4 838.9L716.2 853.2L716.5 840.5L723.5 854.6L722.3 841.1L730.4 854.6L727.7 840.6L736.7 853.4L732.7 839Z" fill="#fff" stroke="#000" stroke-width="2.3" fill-rule="evenodd" stroke-linejoin="miter" stroke-miterlimit="2.5"/>
<path d="M761.5 883.8A121 69.8 60 0 0 723.1 696.4A121 69.8 60 0 0 618.4 756.8A121 69.8 60 0 0 761.5 883.8Z" fill="none" stroke="#000" stroke-width="2.9" />
<path d="M749 862.1A95.9 55.3 60 0 0 718.5 713.5A95.9 55.3 60 0 0 635.5 761.4A95.9 55.3 60 0 0 749 862.1ZM754.3 871.3A106.6 61.5 60 0 0 720.5 706.2A106.6 61.5 60 0 0 628.2 759.5A106.6 61.5 60 0 0 754.3 871.3ZM758 877.7A114 65.8 60 0 0 721.8 701.2A114 65.8 60 0 0 623.2 758.1A114 65.8 60 0 0 758 877.7ZM743 851.7L766.2 871.4M751.3 844.5L775.1 858.4M757.1 834L780.3 841.4M760 820.8L781.5 821.3M760 805.4L778.7 799.1M757 788.7L772 775.9M751.3 771.6L761.7 752.8M743 754.8L748.3 731.1M732.6 739.2L732.6 711.7M720.6 725.6L715.4 695.7M707.6 714.7L697.4 683.9M694.3 707L679.5 676.9M681.4 702.9L662.8 675M669.4 702.7L648 678.3M659 706.3L635.8 686.6M650.7 713.5L626.9 699.6M644.9 724L621.7 716.6M642 737.2L620.5 736.7M642 752.6L623.3 758.9M645 769.3L630 782.1M650.7 786.4L640.3 805.2M659 803.2L653.7 826.9M669.4 818.8L669.4 846.3M681.4 832.4L686.6 862.3M694.4 843.3L704.6 874.1M707.7 851L722.5 881.1M720.6 855.1L739.2 883M732.6 855.3L754 879.7" fill="none" stroke="#000" stroke-width="1.7" />
<path d="M684.1 919L688.5 926.8L693.1 924L697.3 920.6L692.3 913.2L694.9 910.6L697.3 907.7L702.7 914.6L705.9 909.8L708.7 904.5L702.8 898.3L704.4 894.5L705.8 890.4L711.9 896L713.5 889.5L714.6 882.6L708.3 878L708.8 873.2L709 868.2L715.4 872.1L715.3 864.4L714.7 856.5L708.4 853.8L707.7 848.3L706.8 842.8L712.9 844.6L711.1 836.2L708.9 827.8L703 827.2L701.2 821.5L699.2 815.7L704.8 815.4L701.4 806.9L697.6 798.5L692.5 800L689.7 794.5L686.8 788.9L691.4 786.5L686.6 778.5L681.6 770.7L677.7 774.3L674.1 769.2L670.4 764.2L673.7 759.9L667.9 752.8L661.9 746.2L659.5 751.5L655.3 747.3L651.1 743.3L652.9 737.3L646.5 731.7L640 726.7L639.2 733.5L634.8 730.4L630.3 727.6L630.5 720.3L623.9 716.6L617.3 713.5L618.1 721.2L613.8 719.5L609.4 718.1L607.9 710.1L601.6 708.5L595.4 707.5L597.8 715.7L593.7 715.5L589.8 715.5L586.8 707.3L581.1 707.9L575.7 709.2L579.6 717.3L576.1 718.5L572.8 720L568.4 712.2L563.8 715L559.6 718.4L564.6 725.8L562 728.4L559.6 731.3L554.2 724.4L551 729.2L548.2 734.5L554.1 740.7L552.5 744.5L551.1 748.6L545 743L543.4 749.5L542.3 756.4L548.6 761L548.1 765.8L547.9 770.8L541.5 766.9L541.6 774.6L542.2 782.5L548.5 785.2L549.2 790.7L550.2 796.2L544 794.4L545.8 802.8L548.1 811.2L553.9 811.8L555.7 817.5L557.8 823.3L552.2 823.6L555.6 832.1L559.4 840.5L564.4 839L567.2 844.5L570.2 850.1L565.6 852.5L570.3 860.5L575.4 868.3L579.3 864.7L582.8 869.8L586.6 874.8L583.3 879.1L589 886.2L595 892.8L597.5 887.5L601.6 891.7L605.8 895.7L604 901.7L610.4 907.3L616.9 912.3L617.8 905.5L622.2 908.6L626.6 911.4L626.4 918.7L633 922.4L639.6 925.5L638.8 917.8L643.2 919.5L647.5 920.9L649 928.9L655.4 930.5L661.6 931.5L659.1 923.3L663.2 923.5L667.1 923.5L670.2 931.7L675.8 931.1L681.2 929.8L677.4 921.7L680.8 920.5ZM679 902A93 53.7 60 0 0 649.5 758A93 53.7 60 0 0 569 804.5A93 53.7 60 0 0 679 902Z" fill="#fff" stroke="#000" stroke-width="2.9" fill-rule="evenodd"/>
<path d="M680.6 921L684.1 919M685 928.8L688.5 926.8M689.6 926L693.1 924M693.9 922.6L697.3 920.6M688.8 915.2L692.3 913.2M691.4 912.6L694.9 910.6M693.8 909.7L697.3 907.7M699.3 916.6L702.7 914.6M702.5 911.8L705.9 909.8M705.3 906.5L708.7 904.5M699.4 900.3L702.8 898.3M701 896.5L704.4 894.5M702.3 892.4L705.8 890.4M708.4 898L711.9 896M710.1 891.5L713.5 889.5M711.2 884.6L714.6 882.6M704.9 880L708.3 878M705.3 875.2L708.8 873.2M705.6 870.2L709 868.2M711.9 874.1L715.4 872.1M711.8 866.4L715.3 864.4M711.2 858.5L714.7 856.5M704.9 855.8L708.4 853.8M704.2 850.3L707.7 848.3M703.3 844.8L706.8 842.8M709.5 846.6L712.9 844.6M707.7 838.2L711.1 836.2M705.4 829.8L708.9 827.8M699.5 829.2L703 827.2M697.7 823.5L701.2 821.5M695.7 817.7L699.2 815.7M701.3 817.4L704.8 815.4M697.9 808.9L701.4 806.9M694.1 800.5L697.6 798.5M689 802L692.5 800M686.3 796.5L689.7 794.5M683.3 790.9L686.8 788.9M687.9 788.5L691.4 786.5M683.2 780.5L686.6 778.5M678.1 772.7L681.6 770.7M674.2 776.3L677.7 774.3M670.6 771.2L674.1 769.2M666.9 766.2L670.4 764.2M670.2 761.9L673.7 759.9M664.4 754.8L667.9 752.8M658.5 748.2L661.9 746.2M656 753.5L659.5 751.5M651.9 749.3L655.3 747.3M647.7 745.3L651.1 743.3M649.5 739.3L652.9 737.3M643.1 733.7L646.5 731.7M636.5 728.7L640 726.7M635.7 735.5L639.2 733.5M631.3 732.4L634.8 730.4M626.9 729.6L630.3 727.6M627 722.3L630.5 720.3M620.4 718.6L623.9 716.6M613.9 715.5L617.3 713.5M614.7 723.2L618.1 721.2M610.3 721.5L613.8 719.5M606 720.1L609.4 718.1M604.5 712.1L607.9 710.1M598.1 710.5L601.6 708.5M591.9 709.5L595.4 707.5M594.3 717.7L597.8 715.7M590.3 717.5L593.7 715.5M586.3 717.5L589.8 715.5M583.3 709.3L586.8 707.3M577.6 709.9L581.1 707.9M572.2 711.2L575.7 709.2M576.1 719.3L579.6 717.3M572.6 720.5L576.1 718.5M569.4 722L572.8 720M565 714.2L568.4 712.2M560.4 717L563.8 715M556.1 720.4L559.6 718.4M561.2 727.8L564.6 725.8M558.6 730.4L562 728.4M556.2 733.3L559.6 731.3M550.7 726.4L554.2 724.4M547.5 731.2L551 729.2M544.7 736.5L548.2 734.5M550.6 742.7L554.1 740.7M549 746.5L552.5 744.5M547.7 750.6L551.1 748.6M541.6 745L545 743M539.9 751.5L543.4 749.5M538.8 758.4L542.3 756.4M545.1 763L548.6 761M544.7 767.8L548.1 765.8M544.4 772.8L547.9 770.8M538.1 768.9L541.5 766.9M538.2 776.6L541.6 774.6M538.8 784.5L542.2 782.5M545.1 787.2L548.5 785.2M545.8 792.7L549.2 790.7M546.7 798.2L550.2 796.2M540.5 796.4L544 794.4M542.3 804.8L545.8 802.8M544.6 813.2L548.1 811.2M550.5 813.8L553.9 811.8M552.3 819.5L555.7 817.5M554.3 825.3L557.8 823.3M548.7 825.6L552.2 823.6M552.1 834.1L555.6 832.1M555.9 842.5L559.4 840.5M561 841L564.4 839M563.7 846.5L567.2 844.5M566.7 852.1L570.2 850.1M562.1 854.5L565.6 852.5M566.8 862.5L570.3 860.5M571.9 870.3L575.4 868.3M575.8 866.7L579.3 864.7M579.4 871.8L582.8 869.8M583.1 876.8L586.6 874.8M579.8 881.1L583.3 879.1M585.6 888.2L589 886.2M591.5 894.8L595 892.8M594 889.5L597.5 887.5M598.1 893.7L601.6 891.7M602.3 897.7L605.8 895.7M600.5 903.7L604 901.7M606.9 909.3L610.4 907.3M613.5 914.3L616.9 912.3M614.3 907.5L617.8 905.5M618.7 910.6L622.2 908.6M623.1 913.4L626.6 911.4M623 920.7L626.4 918.7M629.6 924.4L633 922.4M636.1 927.5L639.6 925.5M635.3 919.8L638.8 917.8M639.7 921.5L643.2 919.5M644 922.9L647.5 920.9M645.5 930.9L649 928.9M651.9 932.5L655.4 930.5M658.1 933.5L661.6 931.5M655.7 925.3L659.1 923.3M659.7 925.5L663.2 923.5M663.7 925.5L667.1 923.5M666.7 933.7L670.2 931.7M672.4 933.1L675.8 931.1M677.8 931.8L681.2 929.8M673.9 923.7L677.4 921.7M677.4 922.5L680.8 920.5" fill="none" stroke="#000" stroke-width="1.2" />
<path d="M680.6 921L685 928.8L689.6 926L693.9 922.6L688.8 915.2L691.4 912.6L693.8 909.7L699.3 916.6L702.5 911.8L705.3 906.5L699.4 900.3L701 896.5L702.3 892.4L708.4 898L710.1 891.5L711.2 884.6L704.9 880L705.3 875.2L705.6 870.2L711.9 874.1L711.8 866.4L711.2 858.5L704.9 855.8L704.2 850.3L703.3 844.8L709.5 846.6L707.7 838.2L705.4 829.8L699.5 829.2L697.7 823.5L695.7 817.7L701.3 817.4L697.9 808.9L694.1 800.5L689 802L686.3 796.5L683.3 790.9L687.9 788.5L683.2 780.5L678.1 772.7L674.2 776.3L670.6 771.2L666.9 766.2L670.2 761.9L664.4 754.8L658.5 748.2L656 753.5L651.9 749.3L647.7 745.3L649.5 739.3L643.1 733.7L636.5 728.7L635.7 735.5L631.3 732.4L626.9 729.6L627 722.3L620.4 718.6L613.9 715.5L614.7 723.2L610.3 721.5L606 720.1L604.5 712.1L598.1 710.5L591.9 709.5L594.3 717.7L590.3 717.5L586.3 717.5L583.3 709.3L577.6 709.9L572.2 711.2L576.1 719.3L572.6 720.5L569.4 722L565 714.2L560.4 717L556.1 720.4L561.2 727.8L558.6 730.4L556.2 733.3L550.7 726.4L547.5 731.2L544.7 736.5L550.6 742.7L549 746.5L547.7 750.6L541.6 745L539.9 751.5L538.8 758.4L545.1 763L544.7 767.8L544.4 772.8L538.1 768.9L538.2 776.6L538.8 784.5L545.1 787.2L545.8 792.7L546.7 798.2L540.5 796.4L542.3 804.8L544.6 813.2L550.5 813.8L552.3 819.5L554.3 825.3L548.7 825.6L552.1 834.1L555.9 842.5L561 841L563.7 846.5L566.7 852.1L562.1 854.5L566.8 862.5L571.9 870.3L575.8 866.7L579.4 871.8L583.1 876.8L579.8 881.1L585.6 888.2L591.5 894.8L594 889.5L598.1 893.7L602.3 897.7L600.5 903.7L606.9 909.3L613.5 914.3L614.3 907.5L618.7 910.6L623.1 913.4L623 920.7L629.6 924.4L636.1 927.5L635.3 919.8L639.7 921.5L644 922.9L645.5 930.9L651.9 932.5L658.1 933.5L655.7 925.3L659.7 925.5L663.7 925.5L666.7 933.7L672.4 933.1L677.8 931.8L673.9 923.7L677.4 922.5ZM675.5 904A93 53.7 60 0 0 646 760A93 53.7 60 0 0 565.5 806.5A93 53.7 60 0 0 675.5 904Z" fill="#fff" stroke="#000" stroke-width="2.9" fill-rule="evenodd"/>
<path d="M1427.1 431.6L1429.5 429.8L1431.8 427.8L1434 425.6L1435.9 423.3L1437.8 420.8L1439.4 418.1L1440.9 415.2L1442.2 412.2L1443.3 409.1L1444.2 405.8L1445 402.4L1445.5 399L1445.9 395.4L1446 391.8L1445.9 388.1L1445.7 384.4L1445.2 380.6L1444.6 376.9L1443.7 373.1L1442.7 369.3L1441.5 365.6L1440.1 361.9L1438.5 358.2L1436.7 354.6L1434.8 351.1L1432.7 347.7L1430.5 344.4L1428.1 341.2L1425.6 338.1L1423 335.1L1420.2 332.4L1417.4 329.7L1414.5 327.3L1411.4 325L1408.3 322.9L1405.2 321L1402 319.3L1398.7 317.8L1395.5 316.5L1392.2 315.5L1388.9 314.7L1385.6 314L1382.4 313.7L1379.2 313.5L1376 313.6L1372.9 313.9L1369.9 314.4L1366.9 315.2L1364 316.2L1361.3 317.4L1358.6 318.8L1356.1 320.4L1353.7 322.3L1351.5 324.3L1349.3 326.5L1347.4 328.9L1345.6 331.5L1344 334.2L1342.6 337.1L1341.3 340.1L1340.2 343.3L1339.4 346.6L1338.7 350L1338.2 353.5L1337.9 357L1337.8 360.7L1337.9 364.4L1338.2 368.1L1338.3 372.1L1338.6 376.2L1339 380.2L1339.7 384.3L1340.5 388.3L1341.5 392.3L1342.7 396.2L1344 400.1L1345.5 403.9L1347.2 407.6L1349 411.2L1351 414.6L1353.1 418L1355.3 421.1L1357.6 424.2L1360 427.1L1362.5 429.8L1365.1 432.3L1367.8 434.6L1370.5 436.8L1373.3 438.7L1376.1 440.4" fill="none" stroke="#000" stroke-width="10" stroke-linecap="butt"/>
<path d="M1427.1 431.6L1429.5 429.8L1431.8 427.8L1434 425.6L1435.9 423.3L1437.8 420.8L1439.4 418.1L1440.9 415.2L1442.2 412.2L1443.3 409.1L1444.2 405.8L1445 402.4L1445.5 399L1445.9 395.4L1446 391.8L1445.9 388.1L1445.7 384.4L1445.2 380.6L1444.6 376.9L1443.7 373.1L1442.7 369.3L1441.5 365.6L1440.1 361.9L1438.5 358.2L1436.7 354.6L1434.8 351.1L1432.7 347.7L1430.5 344.4L1428.1 341.2L1425.6 338.1L1423 335.1L1420.2 332.4L1417.4 329.7L1414.5 327.3L1411.4 325L1408.3 322.9L1405.2 321L1402 319.3L1398.7 317.8L1395.5 316.5L1392.2 315.5L1388.9 314.7L1385.6 314L1382.4 313.7L1379.2 313.5L1376 313.6L1372.9 313.9L1369.9 314.4L1366.9 315.2L1364 316.2L1361.3 317.4L1358.6 318.8L1356.1 320.4L1353.7 322.3L1351.5 324.3L1349.3 326.5L1347.4 328.9L1345.6 331.5L1344 334.2L1342.6 337.1L1341.3 340.1L1340.2 343.3L1339.4 346.6L1338.7 350L1338.2 353.5L1337.9 357L1337.8 360.7L1337.9 364.4L1338.2 368.1L1338.3 372.1L1338.6 376.2L1339 380.2L1339.7 384.3L1340.5 388.3L1341.5 392.3L1342.7 396.2L1344 400.1L1345.5 403.9L1347.2 407.6L1349 411.2L1351 414.6L1353.1 418L1355.3 421.1L1357.6 424.2L1360 427.1L1362.5 429.8L1365.1 432.3L1367.8 434.6L1370.5 436.8L1373.3 438.7L1376.1 440.4" fill="none" stroke="#fff" stroke-width="5.4" stroke-linecap="butt"/>
<circle cx="1427.1" cy="431.6" r="4.4" fill="#fff" stroke="#000" stroke-width="2.3"/>
<path d="M1429.5 429.8L1431.8 427.8L1434 425.6L1435.9 423.3" fill="none" stroke="#fff" stroke-width="5.4" stroke-linecap="butt"/>
<ellipse cx="1376.1" cy="440.4" rx="5.2" ry="3.2" transform="rotate(-35 1376.1 440.4)" fill="#fff" stroke="#000" stroke-width="2.2"/>
<path d="M1378.7 462.9L1381.6 461L1384.3 458.9L1386.9 456.5L1389.2 453.8L1391.4 450.9L1393.3 447.8L1395 444.5L1396.4 441.1L1397.6 437.4L1398.5 433.6L1399.2 429.6L1399.6 425.6L1399.8 421.4L1399.7 417.1L1399.3 412.8L1398.7 408.5L1397.8 404.2L1396.7 399.8L1395.3 395.5L1393.6 391.3L1391.8 387.1L1389.7 383L1387.4 379L1384.9 375.1L1382.2 371.4L1379.3 367.9L1376.3 364.5L1373.1 361.3L1369.8 358.4L1366.3 355.7L1362.8 353.2L1359.2 351L1355.5 349.1L1351.7 347.4L1348 346L1344.2 344.9L1340.4 344.1L1336.7 343.6L1333 343.4L1329.4 343.5L1325.8 343.9L1322.3 344.6L1319 345.7L1315.8 347L1312.7 348.5L1309.8 350.4L1307.1 352.5L1304.5 354.9L1302.2 357.6L1300 360.5L1298.1 363.6L1296.4 366.9L1295 370.3L1293.8 374L1292.9 377.8L1292.2 381.8L1291.8 385.8L1291.6 390L1291.7 394.3L1292.1 398.6L1292.7 402.9L1293.6 407.2L1294.7 411.6L1296.1 415.9L1297.8 420.1L1299.6 424.3L1301.7 428.4L1304 432.4L1306.5 436.3L1309.2 440L1312.1 443.5L1315.1 446.9L1318.3 450.1L1321.6 453L1325.1 455.7L1328.6 458.2L1332.2 460.4L1335.9 462.3L1339.7 464L1343.4 465.4L1347.2 466.5L1351 467.3L1354.7 467.8L1358.4 468L1362 467.9L1365.6 467.5L1369.1 466.8L1372.4 465.7L1375.6 464.4L1378.7 462.9Z" fill="none" stroke="#000" stroke-width="10" stroke-linecap="butt"/>
<path d="M1378.7 462.9L1381.6 461L1384.3 458.9L1386.9 456.5L1389.2 453.8L1391.4 450.9L1393.3 447.8L1395 444.5L1396.4 441.1L1397.6 437.4L1398.5 433.6L1399.2 429.6L1399.6 425.6L1399.8 421.4L1399.7 417.1L1399.3 412.8L1398.7 408.5L1397.8 404.2L1396.7 399.8L1395.3 395.5L1393.6 391.3L1391.8 387.1L1389.7 383L1387.4 379L1384.9 375.1L1382.2 371.4L1379.3 367.9L1376.3 364.5L1373.1 361.3L1369.8 358.4L1366.3 355.7L1362.8 353.2L1359.2 351L1355.5 349.1L1351.7 347.4L1348 346L1344.2 344.9L1340.4 344.1L1336.7 343.6L1333 343.4L1329.4 343.5L1325.8 343.9L1322.3 344.6L1319 345.7L1315.8 347L1312.7 348.5L1309.8 350.4L1307.1 352.5L1304.5 354.9L1302.2 357.6L1300 360.5L1298.1 363.6L1296.4 366.9L1295 370.3L1293.8 374L1292.9 377.8L1292.2 381.8L1291.8 385.8L1291.6 390L1291.7 394.3L1292.1 398.6L1292.7 402.9L1293.6 407.2L1294.7 411.6L1296.1 415.9L1297.8 420.1L1299.6 424.3L1301.7 428.4L1304 432.4L1306.5 436.3L1309.2 440L1312.1 443.5L1315.1 446.9L1318.3 450.1L1321.6 453L1325.1 455.7L1328.6 458.2L1332.2 460.4L1335.9 462.3L1339.7 464L1343.4 465.4L1347.2 466.5L1351 467.3L1354.7 467.8L1358.4 468L1362 467.9L1365.6 467.5L1369.1 466.8L1372.4 465.7L1375.6 464.4L1378.7 462.9Z" fill="none" stroke="#fff" stroke-width="5.4" stroke-linecap="butt"/>
<path d="M1321.6 356.9A54.5 40.9 60 0 0 1362.9 456.6" fill="none" stroke="#000" stroke-width="1.9" />
<ellipse cx="1499.6" cy="311.5" rx="68" ry="39.2" transform="rotate(60 1499.6 311.5)" fill="#fff" stroke="#000" stroke-width="2.1"/>
<ellipse cx="1497" cy="313" rx="68" ry="39.2" transform="rotate(60 1497 313)" fill="#fff" stroke="#000" stroke-width="2.9"/>
<ellipse cx="1497" cy="313" rx="57" ry="32.9" transform="rotate(60 1497 313)" fill="none" stroke="#000" stroke-width="2.1"/>
<ellipse cx="1483.1" cy="321" rx="47" ry="27.1" transform="rotate(60 1483.1 321)" fill="#fff" stroke="#000" stroke-width="2.9"/>
<path d="M1496 357.5L1503.1 355.6L1508.8 349.6L1511.3 340.1L1510.7 329.6L1513.7 329.8L1511.4 321.4L1508.3 320.7L1508.3 320.7L1503.1 309.5L1495.1 298.3L1485.6 289.9L1476.8 285.5L1475.5 281.4L1469.3 280.4L1470.3 284.5L1470.3 284.5L1463.1 286.4L1457.5 292.4L1455 301.9L1455.6 312.4L1452.6 312.2L1454.9 320.6L1458 321.3L1458 321.3L1463.2 332.5L1471.2 343.7L1480.7 352.1L1489.5 356.5L1490.8 360.6L1496.9 361.6L1496 357.5Z" fill="#fff" stroke="#000" stroke-width="2.1" />
<ellipse cx="1483.1" cy="321" rx="35" ry="20.2" transform="rotate(60 1483.1 321)" fill="#fff" stroke="#000" stroke-width="2.9"/>
<path d="M1470 288.2A35 20.2 60 0 0 1470 328.6A35 20.2 60 0 0 1505 348.8" fill="none" stroke="#000" stroke-width="2.1" />
<path d="M1450.2 306.6L1446 304.8L1449.8 321.4L1453.5 321.3" fill="#fff" stroke="#000" stroke-width="2.9" />
<ellipse cx="1646.4" cy="227.4" rx="42.5" ry="24.5" transform="rotate(60 1646.4 227.4)" fill="#fff" stroke="#000" stroke-width="2.1"/>
<ellipse cx="1643.8" cy="228.9" rx="42.5" ry="24.5" transform="rotate(60 1643.8 228.9)" fill="#fff" stroke="#000" stroke-width="2.9"/>
<ellipse cx="1643.8" cy="228.9" rx="20" ry="11.5" transform="rotate(60 1643.8 228.9)" fill="#fff" stroke="#000" stroke-width="2.9"/>
<path d="M1637.7 209.4A20 11.5 60 0 0 1636.8 232.9A20 11.5 60 0 0 1657.7 243.9" fill="none" stroke="#000" stroke-width="2.1" />
<ellipse cx="1773.7" cy="155.5" rx="89" ry="51.4" transform="rotate(60 1773.7 155.5)" fill="#fff" stroke="#000" stroke-width="2.9"/>
<path d="M1778.8 246.3L1782.5 256.6L1811 240.1L1807.4 229.8Z" fill="#fff" stroke="#000" stroke-width="2" />
<path d="M1690.5 97.4L1697.6 105.7L1726.2 89.2L1719.1 80.9Z" fill="#fff" stroke="#000" stroke-width="2" />
<path d="M1789.3 253.3L1786.5 254.9L1815.1 238.4L1817.9 236.8Z" fill="#fff" stroke="#000" stroke-width="2" />
<path d="M1694.1 94.7L1696.9 93.1L1725.4 76.6L1722.7 78.2Z" fill="#fff" stroke="#000" stroke-width="2" />
<path d="M1784.7 243.1L1789.3 253.3L1817.9 236.8L1813.3 226.6Z" fill="#fff" stroke="#000" stroke-width="2" />
<path d="M1696.9 93.1L1703.3 102.2L1731.9 85.7L1725.4 76.6Z" fill="#fff" stroke="#000" stroke-width="2" />
<path d="M1785.8 242.3L1784.7 243.1L1813.3 226.6L1814.4 225.8Z" fill="#fff" stroke="#000" stroke-width="2" />
<path d="M1703.3 102.2L1704.6 101.7L1733.2 85.2L1731.9 85.7Z" fill="#fff" stroke="#000" stroke-width="2" />
<path d="M1795.2 248.3L1792.9 250.6L1821.4 234.1L1823.8 231.8Z" fill="#fff" stroke="#000" stroke-width="2" />
<path d="M1700.9 91.4L1704.1 90.5L1732.7 74L1729.5 74.9Z" fill="#fff" stroke="#000" stroke-width="2" />
<path d="M1789.7 238.5L1795.2 248.3L1823.8 231.8L1818.3 222Z" fill="#fff" stroke="#000" stroke-width="2" />
<path d="M1704.1 90.5L1709.8 100.2L1738.4 83.7L1732.7 74Z" fill="#fff" stroke="#000" stroke-width="2" />
<path d="M1709.8 100.2L1711.2 99.9L1739.8 83.4L1738.4 83.7Z" fill="#fff" stroke="#000" stroke-width="2" />
<path d="M1790.6 237.4L1789.7 238.5L1818.3 222L1819.2 220.9Z" fill="#fff" stroke="#000" stroke-width="2" />
<path d="M1800 241.9L1798.1 244.8L1826.7 228.3L1828.6 225.4Z" fill="#fff" stroke="#000" stroke-width="2" />
<path d="M1708.6 89.7L1712.1 89.6L1740.7 73.1L1737.2 73.2Z" fill="#fff" stroke="#000" stroke-width="2" />
<path d="M1793.8 232.6L1800 241.9L1828.6 225.4L1822.3 216.1Z" fill="#fff" stroke="#000" stroke-width="2" />
<path d="M1712.1 89.6L1717 99.6L1745.6 83.1L1740.7 73.1Z" fill="#fff" stroke="#000" stroke-width="2" />
<path d="M1794.4 231.2L1793.8 232.6L1822.3 216.1L1823 214.7Z" fill="#fff" stroke="#000" stroke-width="2" />
<path d="M1717 99.6L1718.5 99.7L1747.1 83.2L1745.6 83.1Z" fill="#fff" stroke="#000" stroke-width="2" />
<path d="M1803.6 234L1802.3 237.5L1830.8 221L1832.2 217.5Z" fill="#fff" stroke="#000" stroke-width="2" />
<path d="M1717 89.8L1720.7 90.4L1749.3 73.9L1745.6 73.3Z" fill="#fff" stroke="#000" stroke-width="2" />
<path d="M1724.7 100.6L1726.2 101L1754.8 84.5L1753.2 84.1Z" fill="#fff" stroke="#000" stroke-width="2" />
<path d="M1797.2 223.9L1796.7 225.5L1825.3 209L1825.8 207.4Z" fill="#fff" stroke="#000" stroke-width="2" />
<path d="M1796.7 225.5L1803.6 234L1832.2 217.5L1825.3 209Z" fill="#fff" stroke="#000" stroke-width="2" />
<path d="M1720.7 90.4L1724.7 100.6L1753.2 84.1L1749.3 73.9Z" fill="#fff" stroke="#000" stroke-width="2" />
<path d="M1732.7 103.1L1734.3 103.7L1762.9 87.2L1761.2 86.6Z" fill="#fff" stroke="#000" stroke-width="2" />
<path d="M1798.8 215.5L1798.6 217.3L1827.2 200.8L1827.4 199Z" fill="#fff" stroke="#000" stroke-width="2" />
<path d="M1725.9 91.6L1729.7 92.8L1758.3 76.3L1754.5 75.1Z" fill="#fff" stroke="#000" stroke-width="2" />
<path d="M1806 225L1805.2 228.9L1833.7 212.4L1834.6 208.5Z" fill="#fff" stroke="#000" stroke-width="2" />
<path d="M1798.6 217.3L1806 225L1834.6 208.5L1827.2 200.8Z" fill="#fff" stroke="#000" stroke-width="2" />
<path d="M1729.7 92.8L1732.7 103.1L1761.2 86.6L1758.3 76.3Z" fill="#fff" stroke="#000" stroke-width="2" />
<path d="M1799.3 206.3L1799.3 208.2L1827.9 191.7L1827.9 189.8Z" fill="#fff" stroke="#000" stroke-width="2" />
<path d="M1740.9 107L1742.5 107.9L1771.1 91.4L1769.4 90.5Z" fill="#fff" stroke="#000" stroke-width="2" />
<path d="M1739 97L1740.9 107L1769.4 90.5L1767.6 80.5Z" fill="#fff" stroke="#000" stroke-width="2" />
<path d="M1799.3 208.2L1807 214.9L1835.6 198.4L1827.9 191.7Z" fill="#fff" stroke="#000" stroke-width="2" />
<path d="M1807 214.9L1806.8 219.2L1835.3 202.7L1835.6 198.4Z" fill="#fff" stroke="#000" stroke-width="2" />
<path d="M1735.1 95.1L1739 97L1767.6 80.5L1763.6 78.6Z" fill="#fff" stroke="#000" stroke-width="2" />
<path d="M1749.1 112.3L1750.7 113.5L1779.3 97L1777.6 95.8Z" fill="#fff" stroke="#000" stroke-width="2" />
<path d="M1798.6 196.5L1798.8 198.5L1827.4 182L1827.2 180Z" fill="#fff" stroke="#000" stroke-width="2" />
<path d="M1798.8 198.5L1806.7 203.9L1835.3 187.4L1827.4 182Z" fill="#fff" stroke="#000" stroke-width="2" />
<path d="M1748.3 102.7L1749.1 112.3L1777.6 95.8L1776.9 86.2Z" fill="#fff" stroke="#000" stroke-width="2" />
<path d="M1806.7 203.9L1807 208.6L1835.6 192.1L1835.3 187.4Z" fill="#fff" stroke="#000" stroke-width="2" />
<path d="M1744.4 100.1L1748.3 102.7L1776.9 86.2L1773 83.6Z" fill="#fff" stroke="#000" stroke-width="2" />
<path d="M1796.7 186.1L1797.2 188.2L1825.8 171.7L1825.3 169.6Z" fill="#fff" stroke="#000" stroke-width="2" />
<path d="M1757.1 118.8L1758.7 120.3L1787.3 103.8L1785.7 102.3Z" fill="#fff" stroke="#000" stroke-width="2" />
<path d="M1797.2 188.2L1805.1 192.4L1833.7 175.9L1825.8 171.7Z" fill="#fff" stroke="#000" stroke-width="2" />
<path d="M1757.5 109.9L1757.1 118.8L1785.7 102.3L1786.1 93.4Z" fill="#fff" stroke="#000" stroke-width="2" />
<path d="M1793.8 175.6L1794.4 177.7L1823 161.2L1822.3 159.1Z" fill="#fff" stroke="#000" stroke-width="2" />
<path d="M1764.9 126.5L1766.4 128.1L1794.9 111.6L1793.4 110Z" fill="#fff" stroke="#000" stroke-width="2" />
<path d="M1805.1 192.4L1806 197.3L1834.6 180.8L1833.7 175.9Z" fill="#fff" stroke="#000" stroke-width="2" />
<path d="M1753.7 106.7L1757.5 109.9L1786.1 93.4L1782.2 90.2Z" fill="#fff" stroke="#000" stroke-width="2" />
<path d="M1789.7 165L1790.6 167.1L1819.2 150.6L1818.3 148.5Z" fill="#fff" stroke="#000" stroke-width="2" />
<path d="M1772.1 135.1L1773.5 136.9L1802.1 120.4L1800.7 118.6Z" fill="#fff" stroke="#000" stroke-width="2" />
<path d="M1794.4 177.7L1802.2 180.5L1830.8 164L1823 161.2Z" fill="#fff" stroke="#000" stroke-width="2" />
<path d="M1766.4 118.3L1764.9 126.5L1793.4 110L1794.9 101.8Z" fill="#fff" stroke="#000" stroke-width="2" />
<path d="M1784.7 154.6L1785.8 156.6L1814.3 140.1L1813.3 138.1Z" fill="#fff" stroke="#000" stroke-width="2" />
<path d="M1778.8 144.5L1780 146.5L1808.6 130L1807.4 128Z" fill="#fff" stroke="#000" stroke-width="2" />
<path d="M1802.2 180.5L1803.6 185.5L1832.2 169L1830.8 164Z" fill="#fff" stroke="#000" stroke-width="2" />
<path d="M1762.7 114.6L1766.4 118.3L1794.9 101.8L1791.3 98.1Z" fill="#fff" stroke="#000" stroke-width="2" />
<path d="M1790.6 167.1L1798.1 168.4L1826.7 151.9L1819.2 150.6Z" fill="#fff" stroke="#000" stroke-width="2" />
<path d="M1774.7 127.9L1772.1 135.1L1800.7 118.6L1803.3 111.4Z" fill="#fff" stroke="#000" stroke-width="2" />
<path d="M1795.2 161.5L1789.7 165L1818.3 148.5L1823.8 145Z" fill="#fff" stroke="#000" stroke-width="2" />
<path d="M1773.5 136.9L1779.3 133.9L1807.9 117.4L1802.1 120.4Z" fill="#fff" stroke="#000" stroke-width="2" />
<path d="M1785.8 156.6L1792.8 156.5L1821.4 140L1814.3 140.1Z" fill="#fff" stroke="#000" stroke-width="2" />
<path d="M1782.4 138.5L1778.8 144.5L1807.4 128L1811 122Z" fill="#fff" stroke="#000" stroke-width="2" />
<path d="M1789.3 149.7L1784.7 154.6L1813.3 138.1L1817.9 133.2Z" fill="#fff" stroke="#000" stroke-width="2" />
<path d="M1780 146.5L1786.5 144.9L1815.1 128.4L1808.6 130Z" fill="#fff" stroke="#000" stroke-width="2" />
<path d="M1798.1 168.4L1800 173.5L1828.6 157L1826.7 151.9Z" fill="#fff" stroke="#000" stroke-width="2" />
<path d="M1771.3 123.8L1774.7 127.9L1803.3 111.4L1799.9 107.3Z" fill="#fff" stroke="#000" stroke-width="2" />
<path d="M1792.8 156.5L1795.2 161.5L1823.8 145L1821.4 140Z" fill="#fff" stroke="#000" stroke-width="2" />
<path d="M1779.3 133.9L1782.4 138.5L1811 122L1807.9 117.4Z" fill="#fff" stroke="#000" stroke-width="2" />
<path d="M1786.5 144.9L1789.3 149.7L1817.9 133.2L1815.1 128.4Z" fill="#fff" stroke="#000" stroke-width="2" />
<path d="M1780.1 245.8L1786.5 254.9L1789.3 253.3L1784.7 243.1L1785.8 242.3L1792.9 250.6L1795.2 248.3L1789.7 238.5L1790.6 237.4L1798.1 244.8L1800 241.9L1793.8 232.6L1794.4 231.2L1802.3 237.5L1803.6 234L1796.7 225.5L1797.2 223.9L1805.2 228.9L1806 225L1798.6 217.3L1798.8 215.5L1806.8 219.2L1807 214.9L1799.3 208.2L1799.3 206.3L1807 208.6L1806.7 203.9L1798.8 198.5L1798.6 196.5L1806 197.3L1805.1 192.4L1797.2 188.2L1796.7 186.1L1803.6 185.5L1802.2 180.5L1794.4 177.7L1793.8 175.6L1800 173.5L1798.1 168.4L1790.6 167.1L1789.7 165L1795.2 161.5L1792.8 156.5L1785.8 156.6L1784.7 154.6L1789.3 149.7L1786.5 144.9L1780 146.5L1778.8 144.5L1782.4 138.5L1779.3 133.9L1773.5 136.9L1772.1 135.1L1774.7 127.9L1771.3 123.8L1766.4 128.1L1764.9 126.5L1766.4 118.3L1762.7 114.6L1758.7 120.3L1757.1 118.8L1757.5 109.9L1753.7 106.7L1750.7 113.5L1749.1 112.3L1748.3 102.7L1744.4 100.1L1742.5 107.9L1740.9 107L1739 97L1735.1 95.1L1734.3 103.7L1732.7 103.1L1729.7 92.8L1725.9 91.6L1726.2 101L1724.7 100.6L1720.7 90.4L1717 89.8L1718.5 99.7L1717 99.6L1712.1 89.6L1708.6 89.7L1711.2 99.9L1709.8 100.2L1704.1 90.5L1700.9 91.4L1704.6 101.7L1703.3 102.2L1696.9 93.1L1694.1 94.7L1698.7 104.9L1697.6 105.7L1690.5 97.4L1688.2 99.7L1693.7 109.5L1692.8 110.6L1685.3 103.2L1683.4 106.1L1689.6 115.4L1689 116.8L1681.1 110.5L1679.8 114L1686.7 122.5L1686.2 124.1L1678.2 119.1L1677.4 123L1684.8 130.7L1684.6 132.5L1676.6 128.8L1676.4 133.1L1684.1 139.8L1684.1 141.7L1676.4 139.4L1676.7 144.1L1684.6 149.5L1684.8 151.5L1677.4 150.7L1678.3 155.6L1686.2 159.8L1686.7 161.9L1679.8 162.5L1681.2 167.5L1689 170.3L1689.6 172.4L1683.4 174.5L1685.3 179.6L1692.8 180.9L1693.7 183L1688.2 186.5L1690.6 191.5L1697.6 191.4L1698.7 193.4L1694.1 198.3L1696.9 203.1L1703.4 201.5L1704.6 203.5L1701 209.5L1704.1 214.1L1709.9 211.1L1711.3 212.9L1708.7 220.1L1712.1 224.2L1717 219.9L1718.5 221.5L1717 229.7L1720.7 233.4L1724.7 227.7L1726.3 229.2L1725.9 238.1L1729.7 241.3L1732.7 234.5L1734.3 235.7L1735.1 245.3L1739 247.9L1740.9 240.1L1742.5 241L1744.4 251L1748.3 252.9L1749.1 244.3L1750.7 244.9L1753.7 255.2L1757.5 256.4L1757.2 247L1758.7 247.4L1762.7 257.6L1766.4 258.2L1764.9 248.3L1766.4 248.4L1771.3 258.4L1774.8 258.3L1772.2 248.1L1773.6 247.8L1779.3 257.5L1782.5 256.6L1778.8 246.3Z" fill="#fff" stroke="#000" stroke-width="2.9" />
<ellipse cx="1741.7" cy="174" rx="69" ry="39.8" transform="rotate(60 1741.7 174)" fill="#fff" stroke="#000" stroke-width="2.9"/>
<clipPath id="c10"><ellipse cx="1741.7" cy="174" rx="69" ry="39.8" transform="rotate(60 1741.7 174)"/></clipPath>
<g clip-path="url(#c10)">
<ellipse cx="1762.5" cy="162" rx="69" ry="39.8" transform="rotate(60 1762.5 162)" fill="none" stroke="#000" stroke-width="2.9"/>
<ellipse cx="1770.3" cy="157.5" rx="66" ry="38.1" transform="rotate(60 1770.3 157.5)" fill="none" stroke="#000" stroke-width="2.1"/>
<ellipse cx="1765.1" cy="160.5" rx="44" ry="25.4" transform="rotate(60 1765.1 160.5)" fill="#fff" stroke="#000" stroke-width="2.1"/>
<ellipse cx="1762.5" cy="162" rx="40" ry="23.1" transform="rotate(60 1762.5 162)" fill="#fff" stroke="#000" stroke-width="2.1"/>
<ellipse cx="1739.2" cy="141.8" rx="8" ry="4.6" transform="rotate(60 1739.2 141.8)" fill="#fff" stroke="#000" stroke-width="2.6"/>
<ellipse cx="1769.7" cy="195.2" rx="8" ry="4.6" transform="rotate(60 1769.7 195.2)" fill="#fff" stroke="#000" stroke-width="2.6"/>
<ellipse cx="1765.1" cy="160.5" rx="29" ry="16.7" transform="rotate(60 1765.1 160.5)" fill="#fff" stroke="#000" stroke-width="2.9"/>
<clipPath id="c10b"><ellipse cx="1765.1" cy="160.5" rx="29" ry="16.7" transform="rotate(60 1765.1 160.5)"/></clipPath>
<g clip-path="url(#c10b)">
<path d="M1750.3 136.1L1763.3 128.6M1748.1 138.2L1761.1 130.7M1746.4 141L1759.4 133.5M1745.3 144.5L1758.3 137M1744.9 148.5L1757.9 141M1745.2 152.9L1758.2 145.4M1746.2 157.5L1759.1 150M1747.7 162.3L1760.7 154.8M1749.9 167L1762.9 159.5M1752.5 171.5L1765.5 164M1755.6 175.6L1768.6 168.1M1759 179.2L1772 171.7M1762.6 182.2L1775.6 174.7M1766.3 184.4L1779.3 176.9M1770 185.9L1783 178.4M1773.4 186.5L1786.4 179M1776.6 186.2L1789.6 178.7" fill="none" stroke="#000" stroke-width="2.5" />
<ellipse cx="1778.9" cy="152.5" rx="29" ry="16.7" transform="rotate(60 1778.9 152.5)" fill="none" stroke="#000" stroke-width="2.1"/>
</g>
</g>
<ellipse cx="1741.7" cy="174" rx="69" ry="39.8" transform="rotate(60 1741.7 174)" fill="none" stroke="#000" stroke-width="2.9"/>
<path d="M188.3 876.5L198.8 870.4L210.1 863.9L224.4 876.6L228.3 895.4L217 901.9L206.5 908L192.2 895.3Z" fill="#fff" stroke="#000" stroke-width="2.9" />
<path d="M217 901.9L228.3 895.4" stroke="#000" stroke-width="1.8" fill="none"/>
<path d="M213.2 883.1L224.4 876.6" stroke="#000" stroke-width="1.8" fill="none"/>
<path d="M198.8 870.4L210.1 863.9" stroke="#000" stroke-width="1.8" fill="none"/>
<path d="M188.3 876.5L199.6 870" stroke="#000" stroke-width="1.8" fill="none"/>
<path d="M192.2 895.3L203.4 888.8" stroke="#000" stroke-width="1.8" fill="none"/>
<path d="M206.5 908L217.8 901.5" stroke="#000" stroke-width="1.8" fill="none"/>
<path d="M217 901.9L213.2 883.1L198.8 870.4L188.3 876.5L192.2 895.3L206.5 908Z" fill="#fff" stroke="#000" stroke-width="2.1" />
<ellipse cx="198.5" cy="893" rx="21" ry="12.1" transform="rotate(60 198.5 893)" fill="#fff" stroke="#000" stroke-width="2.9"/>
<ellipse cx="195" cy="895" rx="21" ry="12.1" transform="rotate(60 195 895)" fill="#fff" stroke="#000" stroke-width="2.9"/>
<ellipse cx="195" cy="895" rx="17" ry="9.8" transform="rotate(60 195 895)" fill="none" stroke="#000" stroke-width="2.1"/>
<ellipse cx="195" cy="895" rx="12.5" ry="7.2" transform="rotate(60 195 895)" fill="#fff" stroke="#000" stroke-width="2.9"/>
<clipPath id="c11"><ellipse cx="195" cy="895" rx="12.5" ry="7.2" transform="rotate(60 195 895)"/></clipPath>
<g clip-path="url(#c11)">
<ellipse cx="197.6" cy="893.5" rx="12.5" ry="7.2" transform="rotate(60 197.6 893.5)" fill="none" stroke="#000" stroke-width="1.8"/>
<ellipse cx="200.2" cy="892" rx="12.5" ry="7.2" transform="rotate(60 200.2 892)" fill="none" stroke="#000" stroke-width="1.8"/>
<ellipse cx="202.8" cy="890.5" rx="12.5" ry="7.2" transform="rotate(60 202.8 890.5)" fill="none" stroke="#000" stroke-width="1.8"/>
</g>
<ellipse cx="249.2" cy="864.5" rx="27" ry="15.6" transform="rotate(60 249.2 864.5)" fill="#fff" stroke="#000" stroke-width="2.1"/>
<ellipse cx="246.6" cy="866" rx="27" ry="15.6" transform="rotate(60 246.6 866)" fill="#fff" stroke="#000" stroke-width="2.9"/>
<ellipse cx="243.6" cy="866.5" rx="14" ry="8.1" transform="rotate(60 243.6 866.5)" fill="#fff" stroke="#000" stroke-width="2.9"/>
<path d="M240.3 852.3A14 8.1 60 0 0 239.6 868.8A14 8.1 60 0 0 254.2 876.5" fill="none" stroke="#000" stroke-width="2.1" />
<path d="M76.4 875.5L68.8 904.5L98.6 913.8L95.2 904.5L131 884L117.4 861L79.9 881.4Z" fill="#000" stroke="#000" stroke-width="1" />
<text x="0" y="0" font-size="31" font-weight="bold" font-family="Liberation Sans" stroke="#000" stroke-width="1.6" transform="translate(128.5 882.5) rotate(-26) skewX(-12)" textLength="58" lengthAdjust="spacingAndGlyphs">FR.</text>
<path d="M1085 118L1137 92L1138 293L476.5 678L479 905L553 864" fill="none" stroke="#000" stroke-width="2.1" />
<path d="M172 660L73 717L289 842L269 854" fill="none" stroke="#000" stroke-width="2" />
<text x="1052.5" y="52.3" font-size="30" text-anchor="middle" font-family="Liberation Sans" stroke="#000" stroke-width="0.5">2</text>
<path d="M1050.7 58L1053.2 112" stroke="#000" stroke-width="1.9" fill="none"/>
<text x="777" y="105.8" font-size="30" text-anchor="middle" font-family="Liberation Sans" stroke="#000" stroke-width="0.5">17</text>
<path d="M779 112L782 170" stroke="#000" stroke-width="1.9" fill="none"/>
<text x="888.5" y="119.3" font-size="30" text-anchor="middle" font-family="Liberation Sans" stroke="#000" stroke-width="0.5">16</text>
<path d="M887 126L888.4 186" stroke="#000" stroke-width="1.9" fill="none"/>
<text x="658" y="158.8" font-size="30" text-anchor="middle" font-family="Liberation Sans" stroke="#000" stroke-width="0.5">1</text>
<path d="M659 165L659 248" stroke="#000" stroke-width="1.9" fill="none"/>
<text x="526" y="237.8" font-size="30" text-anchor="middle" font-family="Liberation Sans" stroke="#000" stroke-width="0.5">8</text>
<path d="M527 245L527 338" stroke="#000" stroke-width="1.9" fill="none"/>
<text x="190" y="398.8" font-size="30" text-anchor="middle" font-family="Liberation Sans" stroke="#000" stroke-width="0.5">9</text>
<path d="M190 405L190 500" stroke="#000" stroke-width="1.9" fill="none"/>
<text x="312" y="467.8" font-size="30" text-anchor="middle" font-family="Liberation Sans" stroke="#000" stroke-width="0.5">18</text>
<path d="M312 473L313 540" stroke="#000" stroke-width="1.9" fill="none"/>
<text x="353" y="413.8" font-size="30" text-anchor="middle" font-family="Liberation Sans" stroke="#000" stroke-width="0.5">18</text>
<path d="M354 420L355 516" stroke="#000" stroke-width="1.9" fill="none"/>
<text x="348" y="878.8" font-size="30" text-anchor="middle" font-family="Liberation Sans" stroke="#000" stroke-width="0.5">12</text>
<path d="M268 868L325 868" stroke="#000" stroke-width="1.9" fill="none"/>
<text x="305" y="916.8" font-size="30" text-anchor="middle" font-family="Liberation Sans" stroke="#000" stroke-width="0.5">11</text>
<path d="M215 907L285 907" stroke="#000" stroke-width="1.9" fill="none"/>
<text x="569" y="668.8" font-size="30" text-anchor="middle" font-family="Liberation Sans" stroke="#000" stroke-width="0.5">7</text>
<path d="M569 675L569.5 704" stroke="#000" stroke-width="1.9" fill="none"/>
<text x="745" y="946.8" font-size="30" text-anchor="middle" font-family="Liberation Sans" stroke="#000" stroke-width="0.5">5</text>
<path d="M745 870L745 918" stroke="#000" stroke-width="1.9" fill="none"/>
<text x="832" y="921.8" font-size="30" text-anchor="middle" font-family="Liberation Sans" stroke="#000" stroke-width="0.5">7</text>
<path d="M830 845L830 893" stroke="#000" stroke-width="1.9" fill="none"/>
<text x="899" y="881.8" font-size="30" text-anchor="middle" font-family="Liberation Sans" stroke="#000" stroke-width="0.5">5</text>
<path d="M897 800L897 853" stroke="#000" stroke-width="1.9" fill="none"/>
<text x="964" y="845.8" font-size="30" text-anchor="middle" font-family="Liberation Sans" stroke="#000" stroke-width="0.5">7</text>
<path d="M962 768L962 818" stroke="#000" stroke-width="1.9" fill="none"/>
<text x="1033" y="810.8" font-size="30" text-anchor="middle" font-family="Liberation Sans" stroke="#000" stroke-width="0.5">5</text>
<path d="M1032 720L1032 783" stroke="#000" stroke-width="1.9" fill="none"/>
<text x="1104" y="773.8" font-size="30" text-anchor="middle" font-family="Liberation Sans" stroke="#000" stroke-width="0.5">6</text>
<path d="M1102 690L1102 745" stroke="#000" stroke-width="1.9" fill="none"/>
<text x="1208" y="710.8" font-size="30" text-anchor="middle" font-family="Liberation Sans" stroke="#000" stroke-width="0.5">15</text>
<path d="M1207 610L1207 680" stroke="#000" stroke-width="1.9" fill="none"/>
<text x="1389" y="551.8" font-size="30" text-anchor="middle" font-family="Liberation Sans" stroke="#000" stroke-width="0.5">3</text>
<path d="M1388 455L1388 523" stroke="#000" stroke-width="1.9" fill="none"/>
<text x="1521" y="488.8" font-size="30" text-anchor="middle" font-family="Liberation Sans" stroke="#000" stroke-width="0.5">4</text>
<path d="M1520 378L1520 460" stroke="#000" stroke-width="1.9" fill="none"/>
<text x="1596" y="413.8" font-size="30" text-anchor="middle" font-family="Liberation Sans" stroke="#000" stroke-width="0.5">14</text>
<path d="M1594 300L1594 385" stroke="#000" stroke-width="1.9" fill="none"/>
<text x="1659" y="355.8" font-size="30" text-anchor="middle" font-family="Liberation Sans" stroke="#000" stroke-width="0.5">13</text>
<path d="M1658 262L1658 328" stroke="#000" stroke-width="1.9" fill="none"/>
<text x="1768" y="365.8" font-size="30" text-anchor="middle" font-family="Liberation Sans" stroke="#000" stroke-width="0.5">10</text>
<path d="M1767 250L1767 338" stroke="#000" stroke-width="1.9" fill="none"/>
<text x="1564" y="890.3" font-size="30" text-anchor="start" font-family="Liberation Serif" textLength="169" lengthAdjust="spacing">HN84-E0700</text>
</svg>
</body></html>
